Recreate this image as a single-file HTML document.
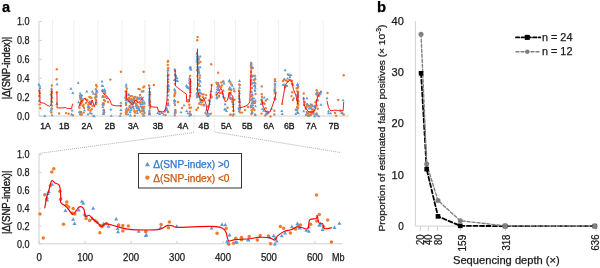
<!DOCTYPE html>
<html><head><meta charset="utf-8"><style>
html,body{margin:0;padding:0;background:#fff;}
svg{display:block;font-family:"Liberation Sans", sans-serif;will-change:transform;}
</style></head><body>
<svg width="600" height="268" viewBox="0 0 600 268">
<rect width="600" height="268" fill="#fff"/>
<line x1="39" y1="21.3" x2="39" y2="116" stroke="#D0D0D0" stroke-width="1"/>
<line x1="39" y1="116" x2="349" y2="116" stroke="#D0D0D0" stroke-width="1"/>
<line x1="39" y1="116.00" x2="42" y2="116.00" stroke="#D0D0D0" stroke-width="1"/>
<text x="29.6" y="119.65" font-size="10.2" text-anchor="end" fill="#1a1a1a" stroke="#1a1a1a" stroke-width="0.25" font-weight="normal" textLength="12.6" lengthAdjust="spacingAndGlyphs" >0.0</text>
<line x1="39" y1="97.08" x2="42" y2="97.08" stroke="#D0D0D0" stroke-width="1"/>
<text x="29.6" y="100.73" font-size="10.2" text-anchor="end" fill="#1a1a1a" stroke="#1a1a1a" stroke-width="0.25" font-weight="normal" textLength="12.6" lengthAdjust="spacingAndGlyphs" >0.2</text>
<line x1="39" y1="78.16" x2="42" y2="78.16" stroke="#D0D0D0" stroke-width="1"/>
<text x="29.6" y="81.81" font-size="10.2" text-anchor="end" fill="#1a1a1a" stroke="#1a1a1a" stroke-width="0.25" font-weight="normal" textLength="12.6" lengthAdjust="spacingAndGlyphs" >0.4</text>
<line x1="39" y1="59.24" x2="42" y2="59.24" stroke="#D0D0D0" stroke-width="1"/>
<text x="29.6" y="62.89000000000001" font-size="10.2" text-anchor="end" fill="#1a1a1a" stroke="#1a1a1a" stroke-width="0.25" font-weight="normal" textLength="12.6" lengthAdjust="spacingAndGlyphs" >0.6</text>
<line x1="39" y1="40.32" x2="42" y2="40.32" stroke="#D0D0D0" stroke-width="1"/>
<text x="29.6" y="43.970000000000006" font-size="10.2" text-anchor="end" fill="#1a1a1a" stroke="#1a1a1a" stroke-width="0.25" font-weight="normal" textLength="12.6" lengthAdjust="spacingAndGlyphs" >0.8</text>
<line x1="39" y1="21.40" x2="42" y2="21.40" stroke="#D0D0D0" stroke-width="1"/>
<text x="29.6" y="25.050000000000004" font-size="10.2" text-anchor="end" fill="#1a1a1a" stroke="#1a1a1a" stroke-width="0.25" font-weight="normal" textLength="12.6" lengthAdjust="spacingAndGlyphs" >1.0</text>
<line x1="52.5" y1="20.5" x2="52.5" y2="116" stroke="#CDCDCD" stroke-width="0.8" stroke-dasharray="0.8 1.2"/>
<line x1="73.9" y1="20.5" x2="73.9" y2="116" stroke="#CDCDCD" stroke-width="0.8" stroke-dasharray="0.8 1.2"/>
<line x1="97.8" y1="20.5" x2="97.8" y2="116" stroke="#CDCDCD" stroke-width="0.8" stroke-dasharray="0.8 1.2"/>
<line x1="122" y1="20.5" x2="122" y2="116" stroke="#CDCDCD" stroke-width="0.8" stroke-dasharray="0.8 1.2"/>
<line x1="145" y1="20.5" x2="145" y2="116" stroke="#CDCDCD" stroke-width="0.8" stroke-dasharray="0.8 1.2"/>
<line x1="169.8" y1="20.5" x2="169.8" y2="116" stroke="#CDCDCD" stroke-width="0.8" stroke-dasharray="0.8 1.2"/>
<line x1="194" y1="20.5" x2="194" y2="132.5" stroke="#CDCDCD" stroke-width="0.8" stroke-dasharray="0.8 1.2"/>
<line x1="214.5" y1="20.5" x2="214.5" y2="132.5" stroke="#CDCDCD" stroke-width="0.8" stroke-dasharray="0.8 1.2"/>
<line x1="235.5" y1="20.5" x2="235.5" y2="116" stroke="#CDCDCD" stroke-width="0.8" stroke-dasharray="0.8 1.2"/>
<line x1="257.8" y1="20.5" x2="257.8" y2="116" stroke="#CDCDCD" stroke-width="0.8" stroke-dasharray="0.8 1.2"/>
<line x1="278.6" y1="20.5" x2="278.6" y2="116" stroke="#CDCDCD" stroke-width="0.8" stroke-dasharray="0.8 1.2"/>
<line x1="299.8" y1="20.5" x2="299.8" y2="116" stroke="#CDCDCD" stroke-width="0.8" stroke-dasharray="0.8 1.2"/>
<line x1="323.2" y1="20.5" x2="323.2" y2="116" stroke="#CDCDCD" stroke-width="0.8" stroke-dasharray="0.8 1.2"/>
<text x="45.5" y="128.9" font-size="9.2" text-anchor="middle" fill="#1a1a1a" stroke="#1a1a1a" stroke-width="0.35" font-weight="normal" textLength="10.6" lengthAdjust="spacingAndGlyphs" >1A</text>
<text x="64.2" y="128.9" font-size="9.2" text-anchor="middle" fill="#1a1a1a" stroke="#1a1a1a" stroke-width="0.35" font-weight="normal" textLength="10.6" lengthAdjust="spacingAndGlyphs" >1B</text>
<text x="86.9" y="128.9" font-size="9.2" text-anchor="middle" fill="#1a1a1a" stroke="#1a1a1a" stroke-width="0.35" font-weight="normal" textLength="10.6" lengthAdjust="spacingAndGlyphs" >2A</text>
<text x="110.1" y="128.9" font-size="9.2" text-anchor="middle" fill="#1a1a1a" stroke="#1a1a1a" stroke-width="0.35" font-weight="normal" textLength="10.6" lengthAdjust="spacingAndGlyphs" >2B</text>
<text x="133.3" y="128.9" font-size="9.2" text-anchor="middle" fill="#1a1a1a" stroke="#1a1a1a" stroke-width="0.35" font-weight="normal" textLength="10.6" lengthAdjust="spacingAndGlyphs" >3A</text>
<text x="158.1" y="128.9" font-size="9.2" text-anchor="middle" fill="#1a1a1a" stroke="#1a1a1a" stroke-width="0.35" font-weight="normal" textLength="10.6" lengthAdjust="spacingAndGlyphs" >3B</text>
<text x="182.9" y="128.9" font-size="9.2" text-anchor="middle" fill="#1a1a1a" stroke="#1a1a1a" stroke-width="0.35" font-weight="normal" textLength="10.6" lengthAdjust="spacingAndGlyphs" >4A</text>
<text x="203.9" y="128.9" font-size="9.2" text-anchor="middle" fill="#1a1a1a" stroke="#1a1a1a" stroke-width="0.35" font-weight="normal" textLength="10.6" lengthAdjust="spacingAndGlyphs" >4B</text>
<text x="226.3" y="128.9" font-size="9.2" text-anchor="middle" fill="#1a1a1a" stroke="#1a1a1a" stroke-width="0.35" font-weight="normal" textLength="10.6" lengthAdjust="spacingAndGlyphs" >5A</text>
<text x="247.3" y="128.9" font-size="9.2" text-anchor="middle" fill="#1a1a1a" stroke="#1a1a1a" stroke-width="0.35" font-weight="normal" textLength="10.6" lengthAdjust="spacingAndGlyphs" >5B</text>
<text x="268.7" y="128.9" font-size="9.2" text-anchor="middle" fill="#1a1a1a" stroke="#1a1a1a" stroke-width="0.35" font-weight="normal" textLength="10.6" lengthAdjust="spacingAndGlyphs" >6A</text>
<text x="289.2" y="128.9" font-size="9.2" text-anchor="middle" fill="#1a1a1a" stroke="#1a1a1a" stroke-width="0.35" font-weight="normal" textLength="10.6" lengthAdjust="spacingAndGlyphs" >6B</text>
<text x="311.3" y="128.9" font-size="9.2" text-anchor="middle" fill="#1a1a1a" stroke="#1a1a1a" stroke-width="0.35" font-weight="normal" textLength="10.6" lengthAdjust="spacingAndGlyphs" >7A</text>
<text x="334" y="128.9" font-size="9.2" text-anchor="middle" fill="#1a1a1a" stroke="#1a1a1a" stroke-width="0.35" font-weight="normal" textLength="10.6" lengthAdjust="spacingAndGlyphs" >7B</text>
<circle cx="39.20" cy="90.70" r="1.2" fill="#ED7D31"/>
<circle cx="39.70" cy="92.90" r="1.2" fill="#ED7D31"/>
<circle cx="39.20" cy="95.90" r="1.2" fill="#ED7D31"/>
<circle cx="39.70" cy="104.60" r="1.2" fill="#ED7D31"/>
<circle cx="40.30" cy="108.10" r="1.2" fill="#ED7D31"/>
<circle cx="51.90" cy="85.50" r="1.2" fill="#ED7D31"/>
<circle cx="51.50" cy="91.40" r="1.2" fill="#ED7D31"/>
<circle cx="52.00" cy="92.90" r="1.2" fill="#ED7D31"/>
<circle cx="51.00" cy="94.40" r="1.2" fill="#ED7D31"/>
<circle cx="52.00" cy="97.40" r="1.2" fill="#ED7D31"/>
<circle cx="51.50" cy="98.90" r="1.2" fill="#ED7D31"/>
<circle cx="52.00" cy="101.90" r="1.2" fill="#ED7D31"/>
<circle cx="52.00" cy="105.60" r="1.2" fill="#ED7D31"/>
<circle cx="52.00" cy="108.60" r="1.2" fill="#ED7D31"/>
<circle cx="51.30" cy="112.50" r="1.2" fill="#ED7D31"/>
<circle cx="56.80" cy="69.30" r="1.2" fill="#ED7D31"/>
<circle cx="56.70" cy="79.20" r="1.2" fill="#ED7D31"/>
<circle cx="56.90" cy="92.20" r="1.2" fill="#ED7D31"/>
<circle cx="59.10" cy="113.50" r="1.2" fill="#ED7D31"/>
<circle cx="66.10" cy="113.10" r="1.2" fill="#ED7D31"/>
<circle cx="68.60" cy="113.80" r="1.2" fill="#ED7D31"/>
<circle cx="72.80" cy="115.30" r="1.2" fill="#ED7D31"/>
<circle cx="80.00" cy="96.00" r="1.2" fill="#ED7D31"/>
<circle cx="81.00" cy="100.00" r="1.2" fill="#ED7D31"/>
<circle cx="80.50" cy="104.00" r="1.2" fill="#ED7D31"/>
<circle cx="79.50" cy="108.00" r="1.2" fill="#ED7D31"/>
<circle cx="81.00" cy="112.00" r="1.2" fill="#ED7D31"/>
<circle cx="80.00" cy="114.00" r="1.2" fill="#ED7D31"/>
<circle cx="82.00" cy="102.00" r="1.2" fill="#ED7D31"/>
<circle cx="83.00" cy="106.00" r="1.2" fill="#ED7D31"/>
<circle cx="82.60" cy="100.60" r="1.2" fill="#ED7D31"/>
<circle cx="83.60" cy="104.80" r="1.2" fill="#ED7D31"/>
<circle cx="84.00" cy="107.70" r="1.2" fill="#ED7D31"/>
<circle cx="81.70" cy="114.50" r="1.2" fill="#ED7D31"/>
<circle cx="83.60" cy="112.60" r="1.2" fill="#ED7D31"/>
<circle cx="89.40" cy="97.00" r="1.2" fill="#ED7D31"/>
<circle cx="91.40" cy="98.00" r="1.2" fill="#ED7D31"/>
<circle cx="88.40" cy="104.80" r="1.2" fill="#ED7D31"/>
<circle cx="89.40" cy="107.70" r="1.2" fill="#ED7D31"/>
<circle cx="90.40" cy="110.70" r="1.2" fill="#ED7D31"/>
<circle cx="91.40" cy="113.60" r="1.2" fill="#ED7D31"/>
<circle cx="88.40" cy="109.70" r="1.2" fill="#ED7D31"/>
<circle cx="96.20" cy="85.00" r="1.2" fill="#ED7D31"/>
<circle cx="95.80" cy="89.30" r="1.2" fill="#ED7D31"/>
<circle cx="96.20" cy="93.20" r="1.2" fill="#ED7D31"/>
<circle cx="95.60" cy="97.00" r="1.2" fill="#ED7D31"/>
<circle cx="96.00" cy="100.00" r="1.2" fill="#ED7D31"/>
<circle cx="96.20" cy="104.00" r="1.2" fill="#ED7D31"/>
<circle cx="86.00" cy="103.00" r="1.2" fill="#ED7D31"/>
<circle cx="92.50" cy="106.00" r="1.2" fill="#ED7D31"/>
<circle cx="85.50" cy="99.00" r="1.2" fill="#ED7D31"/>
<circle cx="102.60" cy="90.30" r="1.2" fill="#ED7D31"/>
<circle cx="103.00" cy="96.10" r="1.2" fill="#ED7D31"/>
<circle cx="104.00" cy="100.00" r="1.2" fill="#ED7D31"/>
<circle cx="103.50" cy="105.00" r="1.2" fill="#ED7D31"/>
<circle cx="104.00" cy="110.00" r="1.2" fill="#ED7D31"/>
<circle cx="105.00" cy="93.20" r="1.2" fill="#ED7D31"/>
<circle cx="105.50" cy="97.00" r="1.2" fill="#ED7D31"/>
<circle cx="105.00" cy="101.00" r="1.2" fill="#ED7D31"/>
<circle cx="110.40" cy="79.60" r="1.2" fill="#ED7D31"/>
<circle cx="120.90" cy="71.80" r="1.2" fill="#ED7D31"/>
<circle cx="120.90" cy="105.80" r="1.2" fill="#ED7D31"/>
<circle cx="120.90" cy="113.60" r="1.2" fill="#ED7D31"/>
<circle cx="108.00" cy="102.00" r="1.2" fill="#ED7D31"/>
<circle cx="126.20" cy="91.20" r="1.2" fill="#ED7D31"/>
<circle cx="126.00" cy="96.00" r="1.2" fill="#ED7D31"/>
<circle cx="126.50" cy="100.00" r="1.2" fill="#ED7D31"/>
<circle cx="126.00" cy="105.00" r="1.2" fill="#ED7D31"/>
<circle cx="126.30" cy="110.00" r="1.2" fill="#ED7D31"/>
<circle cx="126.00" cy="114.00" r="1.2" fill="#ED7D31"/>
<circle cx="128.70" cy="95.10" r="1.2" fill="#ED7D31"/>
<circle cx="130.60" cy="96.10" r="1.2" fill="#ED7D31"/>
<circle cx="132.00" cy="96.10" r="1.2" fill="#ED7D31"/>
<circle cx="129.70" cy="100.00" r="1.2" fill="#ED7D31"/>
<circle cx="131.60" cy="103.90" r="1.2" fill="#ED7D31"/>
<circle cx="133.10" cy="106.80" r="1.2" fill="#ED7D31"/>
<circle cx="134.50" cy="110.70" r="1.2" fill="#ED7D31"/>
<circle cx="135.10" cy="112.60" r="1.2" fill="#ED7D31"/>
<circle cx="136.40" cy="100.00" r="1.2" fill="#ED7D31"/>
<circle cx="137.40" cy="102.00" r="1.2" fill="#ED7D31"/>
<circle cx="139.40" cy="99.00" r="1.2" fill="#ED7D31"/>
<circle cx="140.30" cy="102.90" r="1.2" fill="#ED7D31"/>
<circle cx="142.30" cy="102.00" r="1.2" fill="#ED7D31"/>
<circle cx="138.40" cy="88.90" r="1.2" fill="#ED7D31"/>
<circle cx="139.70" cy="89.30" r="1.2" fill="#ED7D31"/>
<circle cx="144.20" cy="86.40" r="1.2" fill="#ED7D31"/>
<circle cx="143.20" cy="87.40" r="1.2" fill="#ED7D31"/>
<circle cx="143.20" cy="91.20" r="1.2" fill="#ED7D31"/>
<circle cx="143.60" cy="109.70" r="1.2" fill="#ED7D31"/>
<circle cx="142.30" cy="113.60" r="1.2" fill="#ED7D31"/>
<circle cx="136.40" cy="104.80" r="1.2" fill="#ED7D31"/>
<circle cx="138.40" cy="106.80" r="1.2" fill="#ED7D31"/>
<circle cx="134.50" cy="111.60" r="1.2" fill="#ED7D31"/>
<circle cx="143.60" cy="71.80" r="1.2" fill="#ED7D31"/>
<circle cx="133.00" cy="100.00" r="1.2" fill="#ED7D31"/>
<circle cx="135.00" cy="97.00" r="1.2" fill="#ED7D31"/>
<circle cx="130.00" cy="107.00" r="1.2" fill="#ED7D31"/>
<circle cx="140.00" cy="95.00" r="1.2" fill="#ED7D31"/>
<circle cx="153.90" cy="85.00" r="1.2" fill="#ED7D31"/>
<circle cx="150.00" cy="94.20" r="1.2" fill="#ED7D31"/>
<circle cx="150.00" cy="102.00" r="1.2" fill="#ED7D31"/>
<circle cx="150.00" cy="108.00" r="1.2" fill="#ED7D31"/>
<circle cx="159.70" cy="111.60" r="1.2" fill="#ED7D31"/>
<circle cx="164.60" cy="111.60" r="1.2" fill="#ED7D31"/>
<circle cx="168.10" cy="67.90" r="1.2" fill="#ED7D31"/>
<circle cx="168.50" cy="75.00" r="1.2" fill="#ED7D31"/>
<circle cx="168.00" cy="82.00" r="1.2" fill="#ED7D31"/>
<circle cx="168.50" cy="90.00" r="1.2" fill="#ED7D31"/>
<circle cx="168.00" cy="100.00" r="1.2" fill="#ED7D31"/>
<circle cx="167.80" cy="61.70" r="1.2" fill="#ED7D31"/>
<circle cx="167.80" cy="64.90" r="1.2" fill="#ED7D31"/>
<circle cx="167.00" cy="110.00" r="1.2" fill="#ED7D31"/>
<circle cx="165.50" cy="115.00" r="1.2" fill="#ED7D31"/>
<circle cx="175.00" cy="71.00" r="1.2" fill="#ED7D31"/>
<circle cx="176.00" cy="77.00" r="1.2" fill="#ED7D31"/>
<circle cx="175.00" cy="84.00" r="1.2" fill="#ED7D31"/>
<circle cx="174.50" cy="95.00" r="1.2" fill="#ED7D31"/>
<circle cx="175.00" cy="105.00" r="1.2" fill="#ED7D31"/>
<circle cx="175.50" cy="112.00" r="1.2" fill="#ED7D31"/>
<circle cx="174.30" cy="96.10" r="1.2" fill="#ED7D31"/>
<circle cx="188.30" cy="100.00" r="1.2" fill="#ED7D31"/>
<circle cx="189.30" cy="104.80" r="1.2" fill="#ED7D31"/>
<circle cx="189.50" cy="107.70" r="1.2" fill="#ED7D31"/>
<circle cx="190.00" cy="111.60" r="1.2" fill="#ED7D31"/>
<circle cx="190.10" cy="75.90" r="1.2" fill="#ED7D31"/>
<circle cx="190.10" cy="84.70" r="1.2" fill="#ED7D31"/>
<circle cx="190.00" cy="89.50" r="1.2" fill="#ED7D31"/>
<circle cx="190.00" cy="96.00" r="1.2" fill="#ED7D31"/>
<circle cx="182.00" cy="108.00" r="1.2" fill="#ED7D31"/>
<circle cx="178.00" cy="102.00" r="1.2" fill="#ED7D31"/>
<circle cx="197.60" cy="37.00" r="1.2" fill="#ED7D31"/>
<circle cx="197.20" cy="40.30" r="1.2" fill="#ED7D31"/>
<circle cx="197.50" cy="60.30" r="1.2" fill="#ED7D31"/>
<circle cx="197.50" cy="64.60" r="1.2" fill="#ED7D31"/>
<circle cx="197.00" cy="70.00" r="1.2" fill="#ED7D31"/>
<circle cx="197.50" cy="76.00" r="1.2" fill="#ED7D31"/>
<circle cx="198.00" cy="84.00" r="1.2" fill="#ED7D31"/>
<circle cx="199.00" cy="96.00" r="1.2" fill="#ED7D31"/>
<circle cx="200.50" cy="100.00" r="1.2" fill="#ED7D31"/>
<circle cx="198.00" cy="107.70" r="1.2" fill="#ED7D31"/>
<circle cx="200.00" cy="96.10" r="1.2" fill="#ED7D31"/>
<circle cx="202.90" cy="97.10" r="1.2" fill="#ED7D31"/>
<circle cx="202.30" cy="101.90" r="1.2" fill="#ED7D31"/>
<circle cx="203.80" cy="104.80" r="1.2" fill="#ED7D31"/>
<circle cx="199.00" cy="93.20" r="1.2" fill="#ED7D31"/>
<circle cx="196.50" cy="109.70" r="1.2" fill="#ED7D31"/>
<circle cx="206.20" cy="95.10" r="1.2" fill="#ED7D31"/>
<circle cx="208.10" cy="106.80" r="1.2" fill="#ED7D31"/>
<circle cx="206.70" cy="114.50" r="1.2" fill="#ED7D31"/>
<circle cx="210.60" cy="94.70" r="1.2" fill="#ED7D31"/>
<circle cx="211.60" cy="85.00" r="1.2" fill="#ED7D31"/>
<circle cx="211.60" cy="97.10" r="1.2" fill="#ED7D31"/>
<circle cx="211.20" cy="64.20" r="1.2" fill="#ED7D31"/>
<circle cx="211.00" cy="113.60" r="1.2" fill="#ED7D31"/>
<circle cx="198.50" cy="58.40" r="1.2" fill="#ED7D31"/>
<circle cx="218.20" cy="72.80" r="1.2" fill="#ED7D31"/>
<circle cx="217.00" cy="84.00" r="1.2" fill="#ED7D31"/>
<circle cx="219.00" cy="85.50" r="1.2" fill="#ED7D31"/>
<circle cx="221.00" cy="87.00" r="1.2" fill="#ED7D31"/>
<circle cx="218.00" cy="90.00" r="1.2" fill="#ED7D31"/>
<circle cx="220.00" cy="93.00" r="1.2" fill="#ED7D31"/>
<circle cx="222.00" cy="85.40" r="1.2" fill="#ED7D31"/>
<circle cx="221.30" cy="82.50" r="1.2" fill="#ED7D31"/>
<circle cx="223.30" cy="81.50" r="1.2" fill="#ED7D31"/>
<circle cx="224.60" cy="98.00" r="1.2" fill="#ED7D31"/>
<circle cx="227.50" cy="107.70" r="1.2" fill="#ED7D31"/>
<circle cx="230.40" cy="82.50" r="1.2" fill="#ED7D31"/>
<circle cx="231.40" cy="84.40" r="1.2" fill="#ED7D31"/>
<circle cx="231.00" cy="90.30" r="1.2" fill="#ED7D31"/>
<circle cx="229.40" cy="95.10" r="1.2" fill="#ED7D31"/>
<circle cx="231.00" cy="99.00" r="1.2" fill="#ED7D31"/>
<circle cx="232.30" cy="102.00" r="1.2" fill="#ED7D31"/>
<circle cx="232.90" cy="106.80" r="1.2" fill="#ED7D31"/>
<circle cx="233.30" cy="110.70" r="1.2" fill="#ED7D31"/>
<circle cx="232.90" cy="115.50" r="1.2" fill="#ED7D31"/>
<circle cx="234.30" cy="91.20" r="1.2" fill="#ED7D31"/>
<circle cx="239.10" cy="84.40" r="1.2" fill="#ED7D31"/>
<circle cx="239.00" cy="90.50" r="1.2" fill="#ED7D31"/>
<circle cx="239.00" cy="96.00" r="1.2" fill="#ED7D31"/>
<circle cx="239.00" cy="102.00" r="1.2" fill="#ED7D31"/>
<circle cx="239.50" cy="108.00" r="1.2" fill="#ED7D31"/>
<circle cx="240.10" cy="112.60" r="1.2" fill="#ED7D31"/>
<circle cx="242.00" cy="112.60" r="1.2" fill="#ED7D31"/>
<circle cx="251.00" cy="63.00" r="1.2" fill="#ED7D31"/>
<circle cx="251.00" cy="67.00" r="1.2" fill="#ED7D31"/>
<circle cx="251.00" cy="72.00" r="1.2" fill="#ED7D31"/>
<circle cx="251.00" cy="80.00" r="1.2" fill="#ED7D31"/>
<circle cx="252.00" cy="88.00" r="1.2" fill="#ED7D31"/>
<circle cx="252.00" cy="95.00" r="1.2" fill="#ED7D31"/>
<circle cx="253.00" cy="102.00" r="1.2" fill="#ED7D31"/>
<circle cx="253.00" cy="108.00" r="1.2" fill="#ED7D31"/>
<circle cx="251.50" cy="114.00" r="1.2" fill="#ED7D31"/>
<circle cx="253.70" cy="75.70" r="1.2" fill="#ED7D31"/>
<circle cx="255.00" cy="79.60" r="1.2" fill="#ED7D31"/>
<circle cx="255.00" cy="86.00" r="1.2" fill="#ED7D31"/>
<circle cx="255.50" cy="94.00" r="1.2" fill="#ED7D31"/>
<circle cx="255.00" cy="102.00" r="1.2" fill="#ED7D31"/>
<circle cx="254.50" cy="110.00" r="1.2" fill="#ED7D31"/>
<circle cx="245.00" cy="110.00" r="1.2" fill="#ED7D31"/>
<circle cx="248.00" cy="107.00" r="1.2" fill="#ED7D31"/>
<circle cx="261.80" cy="86.40" r="1.2" fill="#ED7D31"/>
<circle cx="261.80" cy="94.20" r="1.2" fill="#ED7D31"/>
<circle cx="262.00" cy="97.00" r="1.2" fill="#ED7D31"/>
<circle cx="262.00" cy="102.00" r="1.2" fill="#ED7D31"/>
<circle cx="262.80" cy="102.90" r="1.2" fill="#ED7D31"/>
<circle cx="263.70" cy="102.90" r="1.2" fill="#ED7D31"/>
<circle cx="266.70" cy="113.60" r="1.2" fill="#ED7D31"/>
<circle cx="270.50" cy="116.50" r="1.2" fill="#ED7D31"/>
<circle cx="274.40" cy="110.70" r="1.2" fill="#ED7D31"/>
<circle cx="274.40" cy="114.50" r="1.2" fill="#ED7D31"/>
<circle cx="275.00" cy="79.20" r="1.2" fill="#ED7D31"/>
<circle cx="274.80" cy="81.10" r="1.2" fill="#ED7D31"/>
<circle cx="274.80" cy="89.30" r="1.2" fill="#ED7D31"/>
<circle cx="275.00" cy="93.20" r="1.2" fill="#ED7D31"/>
<circle cx="261.50" cy="113.60" r="1.2" fill="#ED7D31"/>
<circle cx="265.30" cy="115.50" r="1.2" fill="#ED7D31"/>
<circle cx="284.10" cy="79.60" r="1.2" fill="#ED7D31"/>
<circle cx="286.10" cy="80.60" r="1.2" fill="#ED7D31"/>
<circle cx="287.60" cy="81.50" r="1.2" fill="#ED7D31"/>
<circle cx="289.60" cy="79.60" r="1.2" fill="#ED7D31"/>
<circle cx="291.90" cy="80.60" r="1.2" fill="#ED7D31"/>
<circle cx="285.10" cy="87.40" r="1.2" fill="#ED7D31"/>
<circle cx="282.20" cy="103.90" r="1.2" fill="#ED7D31"/>
<circle cx="292.30" cy="92.20" r="1.2" fill="#ED7D31"/>
<circle cx="291.50" cy="96.10" r="1.2" fill="#ED7D31"/>
<circle cx="292.90" cy="100.00" r="1.2" fill="#ED7D31"/>
<circle cx="296.70" cy="88.30" r="1.2" fill="#ED7D31"/>
<circle cx="297.30" cy="91.20" r="1.2" fill="#ED7D31"/>
<circle cx="297.70" cy="100.00" r="1.2" fill="#ED7D31"/>
<circle cx="297.70" cy="103.90" r="1.2" fill="#ED7D31"/>
<circle cx="298.10" cy="107.70" r="1.2" fill="#ED7D31"/>
<circle cx="295.80" cy="109.70" r="1.2" fill="#ED7D31"/>
<circle cx="297.60" cy="88.10" r="1.2" fill="#ED7D31"/>
<circle cx="298.00" cy="97.00" r="1.2" fill="#ED7D31"/>
<circle cx="297.60" cy="100.00" r="1.2" fill="#ED7D31"/>
<circle cx="298.00" cy="104.00" r="1.2" fill="#ED7D31"/>
<circle cx="297.00" cy="107.00" r="1.2" fill="#ED7D31"/>
<circle cx="303.70" cy="93.50" r="1.2" fill="#ED7D31"/>
<circle cx="304.70" cy="102.20" r="1.2" fill="#ED7D31"/>
<circle cx="306.90" cy="104.40" r="1.2" fill="#ED7D31"/>
<circle cx="305.80" cy="108.70" r="1.2" fill="#ED7D31"/>
<circle cx="306.90" cy="112.00" r="1.2" fill="#ED7D31"/>
<circle cx="308.40" cy="113.00" r="1.2" fill="#ED7D31"/>
<circle cx="310.20" cy="112.00" r="1.2" fill="#ED7D31"/>
<circle cx="309.70" cy="115.20" r="1.2" fill="#ED7D31"/>
<circle cx="311.20" cy="114.10" r="1.2" fill="#ED7D31"/>
<circle cx="312.30" cy="113.00" r="1.2" fill="#ED7D31"/>
<circle cx="313.40" cy="109.80" r="1.2" fill="#ED7D31"/>
<circle cx="308.00" cy="105.50" r="1.2" fill="#ED7D31"/>
<circle cx="309.70" cy="106.50" r="1.2" fill="#ED7D31"/>
<circle cx="304.00" cy="105.00" r="1.2" fill="#ED7D31"/>
<circle cx="306.00" cy="115.00" r="1.2" fill="#ED7D31"/>
<circle cx="316.60" cy="90.30" r="1.2" fill="#ED7D31"/>
<circle cx="317.70" cy="92.50" r="1.2" fill="#ED7D31"/>
<circle cx="319.20" cy="95.70" r="1.2" fill="#ED7D31"/>
<circle cx="315.60" cy="102.20" r="1.2" fill="#ED7D31"/>
<circle cx="316.60" cy="105.50" r="1.2" fill="#ED7D31"/>
<circle cx="317.70" cy="108.70" r="1.2" fill="#ED7D31"/>
<circle cx="316.60" cy="115.20" r="1.2" fill="#ED7D31"/>
<circle cx="327.50" cy="92.90" r="1.2" fill="#ED7D31"/>
<circle cx="335.00" cy="113.00" r="1.2" fill="#ED7D31"/>
<circle cx="336.10" cy="115.80" r="1.2" fill="#ED7D31"/>
<circle cx="338.30" cy="100.00" r="1.2" fill="#ED7D31"/>
<circle cx="342.20" cy="113.00" r="1.2" fill="#ED7D31"/>
<circle cx="343.70" cy="114.50" r="1.2" fill="#ED7D31"/>
<circle cx="343.70" cy="75.20" r="1.2" fill="#ED7D31"/>
<circle cx="80.72" cy="97.32" r="1.2" fill="#ED7D31"/>
<circle cx="81.24" cy="95.59" r="1.2" fill="#ED7D31"/>
<circle cx="81.06" cy="102.05" r="1.2" fill="#ED7D31"/>
<circle cx="80.29" cy="105.16" r="1.2" fill="#ED7D31"/>
<circle cx="80.26" cy="103.54" r="1.2" fill="#ED7D31"/>
<circle cx="80.31" cy="96.00" r="1.2" fill="#ED7D31"/>
<circle cx="80.88" cy="112.19" r="1.2" fill="#ED7D31"/>
<circle cx="80.40" cy="98.91" r="1.2" fill="#ED7D31"/>
<circle cx="81.20" cy="114.85" r="1.2" fill="#ED7D31"/>
<circle cx="81.12" cy="102.73" r="1.2" fill="#ED7D31"/>
<circle cx="88.08" cy="107.05" r="1.2" fill="#ED7D31"/>
<circle cx="90.83" cy="103.08" r="1.2" fill="#ED7D31"/>
<circle cx="90.29" cy="97.19" r="1.2" fill="#ED7D31"/>
<circle cx="87.36" cy="99.91" r="1.2" fill="#ED7D31"/>
<circle cx="91.08" cy="104.12" r="1.2" fill="#ED7D31"/>
<circle cx="88.88" cy="107.13" r="1.2" fill="#ED7D31"/>
<circle cx="89.72" cy="101.70" r="1.2" fill="#ED7D31"/>
<circle cx="91.77" cy="109.28" r="1.2" fill="#ED7D31"/>
<circle cx="96.77" cy="86.48" r="1.2" fill="#ED7D31"/>
<circle cx="95.87" cy="99.90" r="1.2" fill="#ED7D31"/>
<circle cx="95.44" cy="94.27" r="1.2" fill="#ED7D31"/>
<circle cx="95.26" cy="98.03" r="1.2" fill="#ED7D31"/>
<circle cx="96.42" cy="96.03" r="1.2" fill="#ED7D31"/>
<circle cx="103.63" cy="96.60" r="1.2" fill="#ED7D31"/>
<circle cx="104.04" cy="112.23" r="1.2" fill="#ED7D31"/>
<circle cx="103.46" cy="103.25" r="1.2" fill="#ED7D31"/>
<circle cx="102.80" cy="104.45" r="1.2" fill="#ED7D31"/>
<circle cx="103.74" cy="113.78" r="1.2" fill="#ED7D31"/>
<circle cx="104.02" cy="91.11" r="1.2" fill="#ED7D31"/>
<circle cx="103.32" cy="103.40" r="1.2" fill="#ED7D31"/>
<circle cx="102.74" cy="96.77" r="1.2" fill="#ED7D31"/>
<circle cx="126.28" cy="112.27" r="1.2" fill="#ED7D31"/>
<circle cx="126.71" cy="111.65" r="1.2" fill="#ED7D31"/>
<circle cx="125.85" cy="97.29" r="1.2" fill="#ED7D31"/>
<circle cx="125.97" cy="112.29" r="1.2" fill="#ED7D31"/>
<circle cx="126.93" cy="88.83" r="1.2" fill="#ED7D31"/>
<circle cx="125.68" cy="91.42" r="1.2" fill="#ED7D31"/>
<circle cx="144.20" cy="106.67" r="1.2" fill="#ED7D31"/>
<circle cx="136.76" cy="105.65" r="1.2" fill="#ED7D31"/>
<circle cx="139.50" cy="97.76" r="1.2" fill="#ED7D31"/>
<circle cx="143.29" cy="107.92" r="1.2" fill="#ED7D31"/>
<circle cx="142.87" cy="108.17" r="1.2" fill="#ED7D31"/>
<circle cx="134.67" cy="102.59" r="1.2" fill="#ED7D31"/>
<circle cx="129.76" cy="105.88" r="1.2" fill="#ED7D31"/>
<circle cx="129.06" cy="97.94" r="1.2" fill="#ED7D31"/>
<circle cx="131.55" cy="99.27" r="1.2" fill="#ED7D31"/>
<circle cx="133.78" cy="97.74" r="1.2" fill="#ED7D31"/>
<circle cx="128.00" cy="99.12" r="1.2" fill="#ED7D31"/>
<circle cx="129.72" cy="102.09" r="1.2" fill="#ED7D31"/>
<circle cx="128.43" cy="109.24" r="1.2" fill="#ED7D31"/>
<circle cx="138.44" cy="99.08" r="1.2" fill="#ED7D31"/>
<circle cx="132.29" cy="101.86" r="1.2" fill="#ED7D31"/>
<circle cx="134.19" cy="98.72" r="1.2" fill="#ED7D31"/>
<circle cx="142.43" cy="110.90" r="1.2" fill="#ED7D31"/>
<circle cx="135.92" cy="103.77" r="1.2" fill="#ED7D31"/>
<circle cx="129.46" cy="98.43" r="1.2" fill="#ED7D31"/>
<circle cx="133.82" cy="100.71" r="1.2" fill="#ED7D31"/>
<circle cx="142.09" cy="99.26" r="1.2" fill="#ED7D31"/>
<circle cx="128.39" cy="110.31" r="1.2" fill="#ED7D31"/>
<circle cx="136.98" cy="99.05" r="1.2" fill="#ED7D31"/>
<circle cx="137.23" cy="97.38" r="1.2" fill="#ED7D31"/>
<circle cx="136.98" cy="110.70" r="1.2" fill="#ED7D31"/>
<circle cx="142.68" cy="106.75" r="1.2" fill="#ED7D31"/>
<circle cx="132.44" cy="102.13" r="1.2" fill="#ED7D31"/>
<circle cx="130.84" cy="107.81" r="1.2" fill="#ED7D31"/>
<circle cx="137.05" cy="107.91" r="1.2" fill="#ED7D31"/>
<circle cx="133.60" cy="100.12" r="1.2" fill="#ED7D31"/>
<circle cx="141.80" cy="110.79" r="1.2" fill="#ED7D31"/>
<circle cx="142.49" cy="108.29" r="1.2" fill="#ED7D31"/>
<circle cx="141.91" cy="107.36" r="1.2" fill="#ED7D31"/>
<circle cx="131.85" cy="104.25" r="1.2" fill="#ED7D31"/>
<circle cx="144.52" cy="112.98" r="1.2" fill="#ED7D31"/>
<circle cx="134.82" cy="115.73" r="1.2" fill="#ED7D31"/>
<circle cx="140.32" cy="111.85" r="1.2" fill="#ED7D31"/>
<circle cx="149.98" cy="105.38" r="1.2" fill="#ED7D31"/>
<circle cx="149.35" cy="102.01" r="1.2" fill="#ED7D31"/>
<circle cx="149.13" cy="85.44" r="1.2" fill="#ED7D31"/>
<circle cx="149.97" cy="105.14" r="1.2" fill="#ED7D31"/>
<circle cx="149.53" cy="113.94" r="1.2" fill="#ED7D31"/>
<circle cx="149.43" cy="112.02" r="1.2" fill="#ED7D31"/>
<circle cx="167.90" cy="111.39" r="1.2" fill="#ED7D31"/>
<circle cx="168.00" cy="89.78" r="1.2" fill="#ED7D31"/>
<circle cx="168.03" cy="61.05" r="1.2" fill="#ED7D31"/>
<circle cx="167.93" cy="70.25" r="1.2" fill="#ED7D31"/>
<circle cx="167.40" cy="104.75" r="1.2" fill="#ED7D31"/>
<circle cx="167.61" cy="86.52" r="1.2" fill="#ED7D31"/>
<circle cx="168.27" cy="91.16" r="1.2" fill="#ED7D31"/>
<circle cx="167.79" cy="89.03" r="1.2" fill="#ED7D31"/>
<circle cx="175.18" cy="92.27" r="1.2" fill="#ED7D31"/>
<circle cx="175.02" cy="101.25" r="1.2" fill="#ED7D31"/>
<circle cx="174.92" cy="93.60" r="1.2" fill="#ED7D31"/>
<circle cx="174.96" cy="113.19" r="1.2" fill="#ED7D31"/>
<circle cx="175.32" cy="110.07" r="1.2" fill="#ED7D31"/>
<circle cx="175.71" cy="80.46" r="1.2" fill="#ED7D31"/>
<circle cx="175.10" cy="113.28" r="1.2" fill="#ED7D31"/>
<circle cx="190.81" cy="114.38" r="1.2" fill="#ED7D31"/>
<circle cx="189.75" cy="113.63" r="1.2" fill="#ED7D31"/>
<circle cx="190.04" cy="90.36" r="1.2" fill="#ED7D31"/>
<circle cx="190.98" cy="107.62" r="1.2" fill="#ED7D31"/>
<circle cx="189.66" cy="87.58" r="1.2" fill="#ED7D31"/>
<circle cx="190.22" cy="82.96" r="1.2" fill="#ED7D31"/>
<circle cx="189.71" cy="81.93" r="1.2" fill="#ED7D31"/>
<circle cx="196.90" cy="88.95" r="1.2" fill="#ED7D31"/>
<circle cx="197.45" cy="56.48" r="1.2" fill="#ED7D31"/>
<circle cx="197.81" cy="95.57" r="1.2" fill="#ED7D31"/>
<circle cx="198.77" cy="62.93" r="1.2" fill="#ED7D31"/>
<circle cx="197.16" cy="95.96" r="1.2" fill="#ED7D31"/>
<circle cx="198.17" cy="85.02" r="1.2" fill="#ED7D31"/>
<circle cx="197.01" cy="52.88" r="1.2" fill="#ED7D31"/>
<circle cx="198.45" cy="71.27" r="1.2" fill="#ED7D31"/>
<circle cx="203.06" cy="100.71" r="1.2" fill="#ED7D31"/>
<circle cx="208.87" cy="100.38" r="1.2" fill="#ED7D31"/>
<circle cx="205.50" cy="97.91" r="1.2" fill="#ED7D31"/>
<circle cx="203.51" cy="94.40" r="1.2" fill="#ED7D31"/>
<circle cx="202.26" cy="94.34" r="1.2" fill="#ED7D31"/>
<circle cx="208.53" cy="106.12" r="1.2" fill="#ED7D31"/>
<circle cx="201.46" cy="104.44" r="1.2" fill="#ED7D31"/>
<circle cx="211.15" cy="96.34" r="1.2" fill="#ED7D31"/>
<circle cx="218.74" cy="96.65" r="1.2" fill="#ED7D31"/>
<circle cx="221.65" cy="92.72" r="1.2" fill="#ED7D31"/>
<circle cx="219.24" cy="86.95" r="1.2" fill="#ED7D31"/>
<circle cx="216.44" cy="82.60" r="1.2" fill="#ED7D31"/>
<circle cx="216.57" cy="94.82" r="1.2" fill="#ED7D31"/>
<circle cx="218.04" cy="83.26" r="1.2" fill="#ED7D31"/>
<circle cx="230.45" cy="114.62" r="1.2" fill="#ED7D31"/>
<circle cx="234.35" cy="99.69" r="1.2" fill="#ED7D31"/>
<circle cx="230.34" cy="114.76" r="1.2" fill="#ED7D31"/>
<circle cx="230.70" cy="92.84" r="1.2" fill="#ED7D31"/>
<circle cx="229.01" cy="93.74" r="1.2" fill="#ED7D31"/>
<circle cx="231.61" cy="98.10" r="1.2" fill="#ED7D31"/>
<circle cx="230.11" cy="98.17" r="1.2" fill="#ED7D31"/>
<circle cx="229.03" cy="89.51" r="1.2" fill="#ED7D31"/>
<circle cx="239.52" cy="109.89" r="1.2" fill="#ED7D31"/>
<circle cx="239.19" cy="91.09" r="1.2" fill="#ED7D31"/>
<circle cx="239.78" cy="85.08" r="1.2" fill="#ED7D31"/>
<circle cx="239.52" cy="101.87" r="1.2" fill="#ED7D31"/>
<circle cx="238.84" cy="108.40" r="1.2" fill="#ED7D31"/>
<circle cx="251.63" cy="110.32" r="1.2" fill="#ED7D31"/>
<circle cx="251.79" cy="99.75" r="1.2" fill="#ED7D31"/>
<circle cx="251.07" cy="64.65" r="1.2" fill="#ED7D31"/>
<circle cx="250.91" cy="82.12" r="1.2" fill="#ED7D31"/>
<circle cx="250.87" cy="107.30" r="1.2" fill="#ED7D31"/>
<circle cx="251.59" cy="96.27" r="1.2" fill="#ED7D31"/>
<circle cx="254.49" cy="85.89" r="1.2" fill="#ED7D31"/>
<circle cx="255.28" cy="83.41" r="1.2" fill="#ED7D31"/>
<circle cx="255.29" cy="115.01" r="1.2" fill="#ED7D31"/>
<circle cx="254.99" cy="90.68" r="1.2" fill="#ED7D31"/>
<circle cx="254.97" cy="103.03" r="1.2" fill="#ED7D31"/>
<circle cx="261.42" cy="100.11" r="1.2" fill="#ED7D31"/>
<circle cx="265.70" cy="108.15" r="1.2" fill="#ED7D31"/>
<circle cx="265.73" cy="100.53" r="1.2" fill="#ED7D31"/>
<circle cx="264.62" cy="103.83" r="1.2" fill="#ED7D31"/>
<circle cx="275.32" cy="99.30" r="1.2" fill="#ED7D31"/>
<circle cx="274.95" cy="83.91" r="1.2" fill="#ED7D31"/>
<circle cx="274.71" cy="98.80" r="1.2" fill="#ED7D31"/>
<circle cx="291.20" cy="81.12" r="1.2" fill="#ED7D31"/>
<circle cx="291.87" cy="83.85" r="1.2" fill="#ED7D31"/>
<circle cx="285.31" cy="86.57" r="1.2" fill="#ED7D31"/>
<circle cx="287.86" cy="74.35" r="1.2" fill="#ED7D31"/>
<circle cx="283.04" cy="80.88" r="1.2" fill="#ED7D31"/>
<circle cx="298.11" cy="86.72" r="1.2" fill="#ED7D31"/>
<circle cx="298.21" cy="105.10" r="1.2" fill="#ED7D31"/>
<circle cx="298.18" cy="91.98" r="1.2" fill="#ED7D31"/>
<circle cx="297.55" cy="95.18" r="1.2" fill="#ED7D31"/>
<circle cx="298.30" cy="101.26" r="1.2" fill="#ED7D31"/>
<circle cx="306.37" cy="107.19" r="1.2" fill="#ED7D31"/>
<circle cx="309.38" cy="106.28" r="1.2" fill="#ED7D31"/>
<circle cx="307.79" cy="115.47" r="1.2" fill="#ED7D31"/>
<circle cx="313.67" cy="113.74" r="1.2" fill="#ED7D31"/>
<circle cx="310.76" cy="114.96" r="1.2" fill="#ED7D31"/>
<circle cx="314.32" cy="110.59" r="1.2" fill="#ED7D31"/>
<circle cx="311.78" cy="104.59" r="1.2" fill="#ED7D31"/>
<circle cx="311.92" cy="109.41" r="1.2" fill="#ED7D31"/>
<circle cx="312.16" cy="111.73" r="1.2" fill="#ED7D31"/>
<circle cx="306.79" cy="104.59" r="1.2" fill="#ED7D31"/>
<circle cx="317.67" cy="100.25" r="1.2" fill="#ED7D31"/>
<circle cx="316.50" cy="94.20" r="1.2" fill="#ED7D31"/>
<circle cx="316.62" cy="113.55" r="1.2" fill="#ED7D31"/>
<circle cx="317.49" cy="95.72" r="1.2" fill="#ED7D31"/>
<circle cx="198.53" cy="60.01" r="1.2" fill="#ED7D31"/>
<circle cx="198.22" cy="69.21" r="1.2" fill="#ED7D31"/>
<circle cx="199.21" cy="103.80" r="1.2" fill="#ED7D31"/>
<circle cx="199.75" cy="77.70" r="1.2" fill="#ED7D31"/>
<circle cx="198.74" cy="83.83" r="1.2" fill="#ED7D31"/>
<circle cx="198.63" cy="73.60" r="1.2" fill="#ED7D31"/>
<circle cx="197.69" cy="70.26" r="1.2" fill="#ED7D31"/>
<circle cx="200.40" cy="61.92" r="1.2" fill="#ED7D31"/>
<circle cx="252.71" cy="68.01" r="1.2" fill="#ED7D31"/>
<circle cx="252.24" cy="112.49" r="1.2" fill="#ED7D31"/>
<circle cx="253.28" cy="109.06" r="1.2" fill="#ED7D31"/>
<circle cx="253.63" cy="79.93" r="1.2" fill="#ED7D31"/>
<circle cx="251.56" cy="75.41" r="1.2" fill="#ED7D31"/>
<circle cx="252.55" cy="100.74" r="1.2" fill="#ED7D31"/>
<path d="M37.30 85.35L40.30 85.35L38.80 82.65Z" fill="#5B9BD5"/>
<path d="M38.20 86.85L41.20 86.85L39.70 84.15Z" fill="#5B9BD5"/>
<path d="M38.50 89.05L41.50 89.05L40.00 86.35Z" fill="#5B9BD5"/>
<path d="M37.70 101.75L40.70 101.75L39.20 99.05Z" fill="#5B9BD5"/>
<path d="M43.30 116.95L46.30 116.95L44.80 114.25Z" fill="#5B9BD5"/>
<path d="M50.00 89.75L53.00 89.75L51.50 87.05Z" fill="#5B9BD5"/>
<path d="M50.00 96.55L53.00 96.55L51.50 93.85Z" fill="#5B9BD5"/>
<path d="M50.00 101.75L53.00 101.75L51.50 99.05Z" fill="#5B9BD5"/>
<path d="M49.50 105.45L52.50 105.45L51.00 102.75Z" fill="#5B9BD5"/>
<path d="M50.00 109.25L53.00 109.25L51.50 106.55Z" fill="#5B9BD5"/>
<path d="M49.50 111.45L52.50 111.45L51.00 108.75Z" fill="#5B9BD5"/>
<path d="M50.50 116.35L53.50 116.35L52.00 113.65Z" fill="#5B9BD5"/>
<path d="M55.60 85.35L58.60 85.35L57.10 82.65Z" fill="#5B9BD5"/>
<path d="M55.40 104.75L58.40 104.75L56.90 102.05Z" fill="#5B9BD5"/>
<path d="M69.50 89.75L72.50 89.75L71.00 87.05Z" fill="#5B9BD5"/>
<path d="M71.30 93.95L74.30 93.95L72.80 91.25Z" fill="#5B9BD5"/>
<path d="M70.60 111.45L73.60 111.45L72.10 108.75Z" fill="#5B9BD5"/>
<path d="M70.10 115.15L73.10 115.15L71.60 112.45Z" fill="#5B9BD5"/>
<path d="M76.70 83.85L79.70 83.85L78.20 81.15Z" fill="#5B9BD5"/>
<path d="M78.60 94.55L81.60 94.55L80.10 91.85Z" fill="#5B9BD5"/>
<path d="M79.20 96.45L82.20 96.45L80.70 93.75Z" fill="#5B9BD5"/>
<path d="M77.20 103.25L80.20 103.25L78.70 100.55Z" fill="#5B9BD5"/>
<path d="M77.80 112.95L80.80 112.95L79.30 110.25Z" fill="#5B9BD5"/>
<path d="M80.20 99.35L83.20 99.35L81.70 96.65Z" fill="#5B9BD5"/>
<path d="M85.40 92.55L88.40 92.55L86.90 89.85Z" fill="#5B9BD5"/>
<path d="M90.80 92.55L93.80 92.55L92.30 89.85Z" fill="#5B9BD5"/>
<path d="M91.80 94.55L94.80 94.55L93.30 91.85Z" fill="#5B9BD5"/>
<path d="M88.90 104.25L91.90 104.25L90.40 101.55Z" fill="#5B9BD5"/>
<path d="M91.80 116.85L94.80 116.85L93.30 114.15Z" fill="#5B9BD5"/>
<path d="M92.80 117.35L95.80 117.35L94.30 114.65Z" fill="#5B9BD5"/>
<path d="M94.70 103.35L97.70 103.35L96.20 100.65Z" fill="#5B9BD5"/>
<path d="M95.70 92.55L98.70 92.55L97.20 89.85Z" fill="#5B9BD5"/>
<path d="M83.00 111.35L86.00 111.35L84.50 108.65Z" fill="#5B9BD5"/>
<path d="M86.50 115.35L89.50 115.35L88.00 112.65Z" fill="#5B9BD5"/>
<path d="M100.50 82.45L103.50 82.45L102.00 79.75Z" fill="#5B9BD5"/>
<path d="M100.50 86.75L103.50 86.75L102.00 84.05Z" fill="#5B9BD5"/>
<path d="M103.10 90.65L106.10 90.65L104.60 87.95Z" fill="#5B9BD5"/>
<path d="M103.50 92.55L106.50 92.55L105.00 89.85Z" fill="#5B9BD5"/>
<path d="M101.50 105.25L104.50 105.25L103.00 102.55Z" fill="#5B9BD5"/>
<path d="M102.50 112.95L105.50 112.95L104.00 110.25Z" fill="#5B9BD5"/>
<path d="M101.90 114.95L104.90 114.95L103.40 112.25Z" fill="#5B9BD5"/>
<path d="M109.30 110.45L112.30 110.45L110.80 107.75Z" fill="#5B9BD5"/>
<path d="M109.70 116.85L112.70 116.85L111.20 114.15Z" fill="#5B9BD5"/>
<path d="M119.40 103.85L122.40 103.85L120.90 101.15Z" fill="#5B9BD5"/>
<path d="M119.40 111.05L122.40 111.05L120.90 108.35Z" fill="#5B9BD5"/>
<path d="M118.60 116.85L121.60 116.85L120.10 114.15Z" fill="#5B9BD5"/>
<path d="M105.50 99.35L108.50 99.35L107.00 96.65Z" fill="#5B9BD5"/>
<path d="M124.70 85.75L127.70 85.75L126.20 83.05Z" fill="#5B9BD5"/>
<path d="M124.70 87.75L127.70 87.75L126.20 85.05Z" fill="#5B9BD5"/>
<path d="M124.70 95.55L127.70 95.55L126.20 92.85Z" fill="#5B9BD5"/>
<path d="M124.50 104.35L127.50 104.35L126.00 101.65Z" fill="#5B9BD5"/>
<path d="M125.00 109.35L128.00 109.35L126.50 106.65Z" fill="#5B9BD5"/>
<path d="M127.20 95.55L130.20 95.55L128.70 92.85Z" fill="#5B9BD5"/>
<path d="M129.10 103.35L132.10 103.35L130.60 100.65Z" fill="#5B9BD5"/>
<path d="M131.10 105.25L134.10 105.25L132.60 102.55Z" fill="#5B9BD5"/>
<path d="M132.00 103.35L135.00 103.35L133.50 100.65Z" fill="#5B9BD5"/>
<path d="M134.40 107.15L137.40 107.15L135.90 104.45Z" fill="#5B9BD5"/>
<path d="M135.50 109.05L138.50 109.05L137.00 106.35Z" fill="#5B9BD5"/>
<path d="M137.50 99.35L140.50 99.35L139.00 96.65Z" fill="#5B9BD5"/>
<path d="M139.80 98.45L142.80 98.45L141.30 95.75Z" fill="#5B9BD5"/>
<path d="M140.20 92.55L143.20 92.55L141.70 89.85Z" fill="#5B9BD5"/>
<path d="M141.40 101.35L144.40 101.35L142.90 98.65Z" fill="#5B9BD5"/>
<path d="M139.40 107.15L142.40 107.15L140.90 104.45Z" fill="#5B9BD5"/>
<path d="M137.90 111.05L140.90 111.05L139.40 108.35Z" fill="#5B9BD5"/>
<path d="M135.90 113.95L138.90 113.95L137.40 111.25Z" fill="#5B9BD5"/>
<path d="M129.50 111.35L132.50 111.35L131.00 108.65Z" fill="#5B9BD5"/>
<path d="M126.50 115.35L129.50 115.35L128.00 112.65Z" fill="#5B9BD5"/>
<path d="M142.50 116.35L145.50 116.35L144.00 113.65Z" fill="#5B9BD5"/>
<path d="M148.00 88.75L151.00 88.75L149.50 86.05Z" fill="#5B9BD5"/>
<path d="M148.00 92.55L151.00 92.55L149.50 89.85Z" fill="#5B9BD5"/>
<path d="M148.00 97.35L151.00 97.35L149.50 94.65Z" fill="#5B9BD5"/>
<path d="M147.80 101.35L150.80 101.35L149.30 98.65Z" fill="#5B9BD5"/>
<path d="M148.00 106.35L151.00 106.35L149.50 103.65Z" fill="#5B9BD5"/>
<path d="M148.00 111.35L151.00 111.35L149.50 108.65Z" fill="#5B9BD5"/>
<path d="M148.00 115.35L151.00 115.35L149.50 112.65Z" fill="#5B9BD5"/>
<path d="M156.30 113.95L159.30 113.95L157.80 111.25Z" fill="#5B9BD5"/>
<path d="M158.20 114.95L161.20 114.95L159.70 112.25Z" fill="#5B9BD5"/>
<path d="M160.20 113.95L163.20 113.95L161.70 111.25Z" fill="#5B9BD5"/>
<path d="M162.10 115.55L165.10 115.55L163.60 112.85Z" fill="#5B9BD5"/>
<path d="M164.10 111.05L167.10 111.05L165.60 108.35Z" fill="#5B9BD5"/>
<path d="M165.00 109.05L168.00 109.05L166.50 106.35Z" fill="#5B9BD5"/>
<path d="M166.50 71.35L169.50 71.35L168.00 68.65Z" fill="#5B9BD5"/>
<path d="M166.70 80.15L169.70 80.15L168.20 77.45Z" fill="#5B9BD5"/>
<path d="M167.00 87.35L170.00 87.35L168.50 84.65Z" fill="#5B9BD5"/>
<path d="M166.50 96.35L169.50 96.35L168.00 93.65Z" fill="#5B9BD5"/>
<path d="M167.00 106.35L170.00 106.35L168.50 103.65Z" fill="#5B9BD5"/>
<path d="M166.50 113.35L169.50 113.35L168.00 110.65Z" fill="#5B9BD5"/>
<path d="M173.20 70.35L176.20 70.35L174.70 67.65Z" fill="#5B9BD5"/>
<path d="M173.50 75.35L176.50 75.35L175.00 72.65Z" fill="#5B9BD5"/>
<path d="M174.50 81.35L177.50 81.35L176.00 78.65Z" fill="#5B9BD5"/>
<path d="M173.50 91.35L176.50 91.35L175.00 88.65Z" fill="#5B9BD5"/>
<path d="M173.00 101.35L176.00 101.35L174.50 98.65Z" fill="#5B9BD5"/>
<path d="M173.50 111.35L176.50 111.35L175.00 108.65Z" fill="#5B9BD5"/>
<path d="M173.20 116.35L176.20 116.35L174.70 113.65Z" fill="#5B9BD5"/>
<path d="M175.50 79.05L178.50 79.05L177.00 76.35Z" fill="#5B9BD5"/>
<path d="M176.10 81.95L179.10 81.95L177.60 79.25Z" fill="#5B9BD5"/>
<path d="M184.90 86.75L187.90 86.75L186.40 84.05Z" fill="#5B9BD5"/>
<path d="M186.40 88.75L189.40 88.75L187.90 86.05Z" fill="#5B9BD5"/>
<path d="M185.20 112.05L188.20 112.05L186.70 109.35Z" fill="#5B9BD5"/>
<path d="M186.40 114.35L189.40 114.35L187.90 111.65Z" fill="#5B9BD5"/>
<path d="M189.00 115.85L192.00 115.85L190.50 113.15Z" fill="#5B9BD5"/>
<path d="M188.60 68.55L191.60 68.55L190.10 65.85Z" fill="#5B9BD5"/>
<path d="M189.20 70.45L192.20 70.45L190.70 67.75Z" fill="#5B9BD5"/>
<path d="M188.00 79.25L191.00 79.25L189.50 76.55Z" fill="#5B9BD5"/>
<path d="M189.00 82.15L192.00 82.15L190.50 79.45Z" fill="#5B9BD5"/>
<path d="M185.70 87.95L188.70 87.95L187.20 85.25Z" fill="#5B9BD5"/>
<path d="M187.20 88.95L190.20 88.95L188.70 86.25Z" fill="#5B9BD5"/>
<path d="M189.00 86.95L192.00 86.95L190.50 84.25Z" fill="#5B9BD5"/>
<path d="M189.00 93.35L192.00 93.35L190.50 90.65Z" fill="#5B9BD5"/>
<path d="M182.50 106.35L185.50 106.35L184.00 103.65Z" fill="#5B9BD5"/>
<path d="M179.50 113.35L182.50 113.35L181.00 110.65Z" fill="#5B9BD5"/>
<path d="M195.50 55.25L198.50 55.25L197.00 52.55Z" fill="#5B9BD5"/>
<path d="M196.00 56.85L199.00 56.85L197.50 54.15Z" fill="#5B9BD5"/>
<path d="M195.50 63.35L198.50 63.35L197.00 60.65Z" fill="#5B9BD5"/>
<path d="M196.00 67.55L199.00 67.55L197.50 64.85Z" fill="#5B9BD5"/>
<path d="M196.50 70.45L199.50 70.45L198.00 67.75Z" fill="#5B9BD5"/>
<path d="M197.50 73.35L200.50 73.35L199.00 70.65Z" fill="#5B9BD5"/>
<path d="M198.50 76.35L201.50 76.35L200.00 73.65Z" fill="#5B9BD5"/>
<path d="M197.50 81.15L200.50 81.15L199.00 78.45Z" fill="#5B9BD5"/>
<path d="M198.50 82.15L201.50 82.15L200.00 79.45Z" fill="#5B9BD5"/>
<path d="M198.50 86.95L201.50 86.95L200.00 84.25Z" fill="#5B9BD5"/>
<path d="M198.00 90.85L201.00 90.85L199.50 88.15Z" fill="#5B9BD5"/>
<path d="M198.50 93.35L201.50 93.35L200.00 90.65Z" fill="#5B9BD5"/>
<path d="M199.40 100.35L202.40 100.35L200.90 97.65Z" fill="#5B9BD5"/>
<path d="M199.40 94.55L202.40 94.55L200.90 91.85Z" fill="#5B9BD5"/>
<path d="M205.20 111.05L208.20 111.05L206.70 108.35Z" fill="#5B9BD5"/>
<path d="M206.20 113.95L209.20 113.95L207.70 111.25Z" fill="#5B9BD5"/>
<path d="M207.80 115.55L210.80 115.55L209.30 112.85Z" fill="#5B9BD5"/>
<path d="M209.70 98.45L212.70 98.45L211.20 95.75Z" fill="#5B9BD5"/>
<path d="M208.50 102.35L211.50 102.35L210.00 99.65Z" fill="#5B9BD5"/>
<path d="M209.50 92.35L212.50 92.35L211.00 89.65Z" fill="#5B9BD5"/>
<path d="M189.30 70.25L192.30 70.25L190.80 67.55Z" fill="#5B9BD5"/>
<path d="M188.40 68.85L191.40 68.85L189.90 66.15Z" fill="#5B9BD5"/>
<path d="M216.00 87.75L219.00 87.75L217.50 85.05Z" fill="#5B9BD5"/>
<path d="M217.00 90.35L220.00 90.35L218.50 87.65Z" fill="#5B9BD5"/>
<path d="M215.00 93.35L218.00 93.35L216.50 90.65Z" fill="#5B9BD5"/>
<path d="M217.50 96.35L220.50 96.35L219.00 93.65Z" fill="#5B9BD5"/>
<path d="M215.50 99.35L218.50 99.35L217.00 96.65Z" fill="#5B9BD5"/>
<path d="M221.70 82.45L224.70 82.45L223.20 79.75Z" fill="#5B9BD5"/>
<path d="M222.50 84.45L225.50 84.45L224.00 81.75Z" fill="#5B9BD5"/>
<path d="M221.80 91.65L224.80 91.65L223.30 88.95Z" fill="#5B9BD5"/>
<path d="M221.70 97.45L224.70 97.45L223.20 94.75Z" fill="#5B9BD5"/>
<path d="M223.60 105.25L226.60 105.25L225.10 102.55Z" fill="#5B9BD5"/>
<path d="M224.00 110.45L227.00 110.45L225.50 107.75Z" fill="#5B9BD5"/>
<path d="M225.00 112.05L228.00 112.05L226.50 109.35Z" fill="#5B9BD5"/>
<path d="M223.10 110.45L226.10 110.45L224.60 107.75Z" fill="#5B9BD5"/>
<path d="M227.90 81.35L230.90 81.35L229.40 78.65Z" fill="#5B9BD5"/>
<path d="M228.30 88.75L231.30 88.75L229.80 86.05Z" fill="#5B9BD5"/>
<path d="M230.80 86.75L233.80 86.75L232.30 84.05Z" fill="#5B9BD5"/>
<path d="M232.20 89.65L235.20 89.65L233.70 86.95Z" fill="#5B9BD5"/>
<path d="M228.30 98.45L231.30 98.45L229.80 95.75Z" fill="#5B9BD5"/>
<path d="M232.20 114.95L235.20 114.95L233.70 112.25Z" fill="#5B9BD5"/>
<path d="M227.90 97.45L230.90 97.45L229.40 94.75Z" fill="#5B9BD5"/>
<path d="M238.00 81.95L241.00 81.95L239.50 79.25Z" fill="#5B9BD5"/>
<path d="M238.00 88.75L241.00 88.75L239.50 86.05Z" fill="#5B9BD5"/>
<path d="M238.00 94.35L241.00 94.35L239.50 91.65Z" fill="#5B9BD5"/>
<path d="M238.00 100.35L241.00 100.35L239.50 97.65Z" fill="#5B9BD5"/>
<path d="M237.80 106.35L240.80 106.35L239.30 103.65Z" fill="#5B9BD5"/>
<path d="M237.50 112.35L240.50 112.35L239.00 109.65Z" fill="#5B9BD5"/>
<path d="M249.50 65.95L252.50 65.95L251.00 63.25Z" fill="#5B9BD5"/>
<path d="M249.50 77.35L252.50 77.35L251.00 74.65Z" fill="#5B9BD5"/>
<path d="M250.00 85.35L253.00 85.35L251.50 82.65Z" fill="#5B9BD5"/>
<path d="M249.50 93.35L252.50 93.35L251.00 90.65Z" fill="#5B9BD5"/>
<path d="M251.00 99.35L254.00 99.35L252.50 96.65Z" fill="#5B9BD5"/>
<path d="M249.50 106.35L252.50 106.35L251.00 103.65Z" fill="#5B9BD5"/>
<path d="M250.50 113.35L253.50 113.35L252.00 110.65Z" fill="#5B9BD5"/>
<path d="M253.00 83.35L256.00 83.35L254.50 80.65Z" fill="#5B9BD5"/>
<path d="M253.50 91.35L256.50 91.35L255.00 88.65Z" fill="#5B9BD5"/>
<path d="M252.50 99.35L255.50 99.35L254.00 96.65Z" fill="#5B9BD5"/>
<path d="M254.00 107.35L257.00 107.35L255.50 104.65Z" fill="#5B9BD5"/>
<path d="M253.50 115.35L256.50 115.35L255.00 112.65Z" fill="#5B9BD5"/>
<path d="M260.50 100.35L263.50 100.35L262.00 97.65Z" fill="#5B9BD5"/>
<path d="M260.90 110.05L263.90 110.05L262.40 107.35Z" fill="#5B9BD5"/>
<path d="M262.20 111.65L265.20 111.65L263.70 108.95Z" fill="#5B9BD5"/>
<path d="M264.20 112.35L267.20 112.35L265.70 109.65Z" fill="#5B9BD5"/>
<path d="M266.10 112.95L269.10 112.95L267.60 110.25Z" fill="#5B9BD5"/>
<path d="M270.00 109.65L273.00 109.65L271.50 106.95Z" fill="#5B9BD5"/>
<path d="M273.50 85.75L276.50 85.75L275.00 83.05Z" fill="#5B9BD5"/>
<path d="M273.50 87.75L276.50 87.75L275.00 85.05Z" fill="#5B9BD5"/>
<path d="M273.50 98.45L276.50 98.45L275.00 95.75Z" fill="#5B9BD5"/>
<path d="M264.80 114.95L267.80 114.95L266.30 112.25Z" fill="#5B9BD5"/>
<path d="M266.80 113.55L269.80 113.55L268.30 110.85Z" fill="#5B9BD5"/>
<path d="M283.60 71.25L286.60 71.25L285.10 68.55Z" fill="#5B9BD5"/>
<path d="M287.50 76.05L290.50 76.05L289.00 73.35Z" fill="#5B9BD5"/>
<path d="M289.40 76.05L292.40 76.05L290.90 73.35Z" fill="#5B9BD5"/>
<path d="M288.50 78.05L291.50 78.05L290.00 75.35Z" fill="#5B9BD5"/>
<path d="M282.60 85.75L285.60 85.75L284.10 83.05Z" fill="#5B9BD5"/>
<path d="M285.50 86.75L288.50 86.75L287.00 84.05Z" fill="#5B9BD5"/>
<path d="M291.40 85.75L294.40 85.75L292.90 83.05Z" fill="#5B9BD5"/>
<path d="M280.30 112.05L283.30 112.05L281.80 109.35Z" fill="#5B9BD5"/>
<path d="M280.70 114.95L283.70 114.95L282.20 112.25Z" fill="#5B9BD5"/>
<path d="M292.30 99.35L295.30 99.35L293.80 96.65Z" fill="#5B9BD5"/>
<path d="M296.20 85.75L299.20 85.75L297.70 83.05Z" fill="#5B9BD5"/>
<path d="M296.60 95.55L299.60 95.55L298.10 92.85Z" fill="#5B9BD5"/>
<path d="M294.30 114.95L297.30 114.95L295.80 112.25Z" fill="#5B9BD5"/>
<path d="M296.60 113.95L299.60 113.95L298.10 111.25Z" fill="#5B9BD5"/>
<path d="M296.10 85.15L299.10 85.15L297.60 82.45Z" fill="#5B9BD5"/>
<path d="M296.10 95.35L299.10 95.35L297.60 92.65Z" fill="#5B9BD5"/>
<path d="M295.50 111.35L298.50 111.35L297.00 108.65Z" fill="#5B9BD5"/>
<path d="M302.20 99.25L305.20 99.25L303.70 96.55Z" fill="#5B9BD5"/>
<path d="M305.40 99.25L308.40 99.25L306.90 96.55Z" fill="#5B9BD5"/>
<path d="M302.20 112.25L305.20 112.25L303.70 109.55Z" fill="#5B9BD5"/>
<path d="M309.10 105.75L312.10 105.75L310.60 103.05Z" fill="#5B9BD5"/>
<path d="M310.80 107.25L313.80 107.25L312.30 104.55Z" fill="#5B9BD5"/>
<path d="M311.90 113.35L314.90 113.35L313.40 110.65Z" fill="#5B9BD5"/>
<path d="M307.60 116.55L310.60 116.55L309.10 113.85Z" fill="#5B9BD5"/>
<path d="M313.00 117.15L316.00 117.15L314.50 114.45Z" fill="#5B9BD5"/>
<path d="M305.90 105.25L308.90 105.25L307.40 102.55Z" fill="#5B9BD5"/>
<path d="M315.60 94.85L318.60 94.85L317.10 92.15Z" fill="#5B9BD5"/>
<path d="M319.50 92.75L322.50 92.75L321.00 90.05Z" fill="#5B9BD5"/>
<path d="M319.00 94.85L322.00 94.85L320.50 92.15Z" fill="#5B9BD5"/>
<path d="M315.10 101.35L318.10 101.35L316.60 98.65Z" fill="#5B9BD5"/>
<path d="M319.50 105.75L322.50 105.75L321.00 103.05Z" fill="#5B9BD5"/>
<path d="M314.70 115.05L317.70 115.05L316.20 112.35Z" fill="#5B9BD5"/>
<path d="M325.50 99.25L328.50 99.25L327.00 96.55Z" fill="#5B9BD5"/>
<path d="M327.00 112.25L330.00 112.25L328.50 109.55Z" fill="#5B9BD5"/>
<path d="M329.20 114.35L332.20 114.35L330.70 111.65Z" fill="#5B9BD5"/>
<path d="M327.00 114.35L330.00 114.35L328.50 111.65Z" fill="#5B9BD5"/>
<path d="M339.00 112.25L342.00 112.25L340.50 109.55Z" fill="#5B9BD5"/>
<path d="M340.00 114.35L343.00 114.35L341.50 111.65Z" fill="#5B9BD5"/>
<path d="M341.60 101.35L344.60 101.35L343.10 98.65Z" fill="#5B9BD5"/>
<path d="M80.26 96.37L83.26 96.37L81.76 93.67Z" fill="#5B9BD5"/>
<path d="M80.07 101.72L83.07 101.72L81.57 99.02Z" fill="#5B9BD5"/>
<path d="M78.93 97.94L81.93 97.94L80.43 95.24Z" fill="#5B9BD5"/>
<path d="M79.19 113.30L82.19 113.30L80.69 110.60Z" fill="#5B9BD5"/>
<path d="M86.96 108.26L89.96 108.26L88.46 105.56Z" fill="#5B9BD5"/>
<path d="M88.65 113.98L91.65 113.98L90.15 111.28Z" fill="#5B9BD5"/>
<path d="M89.88 102.82L92.88 102.82L91.38 100.12Z" fill="#5B9BD5"/>
<path d="M95.10 91.94L98.10 91.94L96.60 89.24Z" fill="#5B9BD5"/>
<path d="M94.81 97.83L97.81 97.83L96.31 95.13Z" fill="#5B9BD5"/>
<path d="M101.47 87.10L104.47 87.10L102.97 84.40Z" fill="#5B9BD5"/>
<path d="M101.29 107.93L104.29 107.93L102.79 105.23Z" fill="#5B9BD5"/>
<path d="M101.41 91.27L104.41 91.27L102.91 88.57Z" fill="#5B9BD5"/>
<path d="M101.83 111.24L104.83 111.24L103.33 108.54Z" fill="#5B9BD5"/>
<path d="M101.33 97.72L104.33 97.72L102.83 95.02Z" fill="#5B9BD5"/>
<path d="M124.27 100.87L127.27 100.87L125.77 98.17Z" fill="#5B9BD5"/>
<path d="M124.84 93.76L127.84 93.76L126.34 91.06Z" fill="#5B9BD5"/>
<path d="M123.91 98.76L126.91 98.76L125.41 96.06Z" fill="#5B9BD5"/>
<path d="M124.49 103.47L127.49 103.47L125.99 100.77Z" fill="#5B9BD5"/>
<path d="M132.54 98.76L135.54 98.76L134.04 96.06Z" fill="#5B9BD5"/>
<path d="M126.97 102.26L129.97 102.26L128.47 99.56Z" fill="#5B9BD5"/>
<path d="M130.91 108.05L133.91 108.05L132.41 105.35Z" fill="#5B9BD5"/>
<path d="M142.76 104.61L145.76 104.61L144.26 101.91Z" fill="#5B9BD5"/>
<path d="M142.43 112.18L145.43 112.18L143.93 109.48Z" fill="#5B9BD5"/>
<path d="M142.74 103.45L145.74 103.45L144.24 100.75Z" fill="#5B9BD5"/>
<path d="M130.25 101.53L133.25 101.53L131.75 98.83Z" fill="#5B9BD5"/>
<path d="M129.84 101.21L132.84 101.21L131.34 98.51Z" fill="#5B9BD5"/>
<path d="M137.11 110.95L140.11 110.95L138.61 108.25Z" fill="#5B9BD5"/>
<path d="M140.79 105.06L143.79 105.06L142.29 102.36Z" fill="#5B9BD5"/>
<path d="M137.60 109.55L140.60 109.55L139.10 106.85Z" fill="#5B9BD5"/>
<path d="M127.94 107.60L130.94 107.60L129.44 104.90Z" fill="#5B9BD5"/>
<path d="M141.97 109.30L144.97 109.30L143.47 106.60Z" fill="#5B9BD5"/>
<path d="M139.25 105.04L142.25 105.04L140.75 102.34Z" fill="#5B9BD5"/>
<path d="M129.53 109.40L132.53 109.40L131.03 106.70Z" fill="#5B9BD5"/>
<path d="M132.15 109.56L135.15 109.56L133.65 106.86Z" fill="#5B9BD5"/>
<path d="M128.66 113.11L131.66 113.11L130.16 110.41Z" fill="#5B9BD5"/>
<path d="M141.88 116.38L144.88 116.38L143.38 113.68Z" fill="#5B9BD5"/>
<path d="M128.98 116.48L131.98 116.48L130.48 113.78Z" fill="#5B9BD5"/>
<path d="M148.33 92.89L151.33 92.89L149.83 90.19Z" fill="#5B9BD5"/>
<path d="M147.75 95.43L150.75 95.43L149.25 92.73Z" fill="#5B9BD5"/>
<path d="M147.74 104.53L150.74 104.53L149.24 101.83Z" fill="#5B9BD5"/>
<path d="M147.76 99.34L150.76 99.34L149.26 96.64Z" fill="#5B9BD5"/>
<path d="M147.63 114.56L150.63 114.56L149.13 111.86Z" fill="#5B9BD5"/>
<path d="M147.85 100.55L150.85 100.55L149.35 97.85Z" fill="#5B9BD5"/>
<path d="M148.08 114.38L151.08 114.38L149.58 111.68Z" fill="#5B9BD5"/>
<path d="M166.57 105.27L169.57 105.27L168.07 102.57Z" fill="#5B9BD5"/>
<path d="M166.03 92.73L169.03 92.73L167.53 90.03Z" fill="#5B9BD5"/>
<path d="M166.20 76.86L169.20 76.86L167.70 74.16Z" fill="#5B9BD5"/>
<path d="M166.83 89.78L169.83 89.78L168.33 87.08Z" fill="#5B9BD5"/>
<path d="M166.57 103.91L169.57 103.91L168.07 101.21Z" fill="#5B9BD5"/>
<path d="M166.99 86.17L169.99 86.17L168.49 83.47Z" fill="#5B9BD5"/>
<path d="M174.04 75.93L177.04 75.93L175.54 73.23Z" fill="#5B9BD5"/>
<path d="M172.89 90.57L175.89 90.57L174.39 87.87Z" fill="#5B9BD5"/>
<path d="M172.82 80.90L175.82 80.90L174.32 78.20Z" fill="#5B9BD5"/>
<path d="M172.82 101.48L175.82 101.48L174.32 98.78Z" fill="#5B9BD5"/>
<path d="M173.95 112.41L176.95 112.41L175.45 109.71Z" fill="#5B9BD5"/>
<path d="M172.95 103.72L175.95 103.72L174.45 101.02Z" fill="#5B9BD5"/>
<path d="M173.76 76.21L176.76 76.21L175.26 73.51Z" fill="#5B9BD5"/>
<path d="M189.06 68.32L192.06 68.32L190.56 65.62Z" fill="#5B9BD5"/>
<path d="M188.79 89.37L191.79 89.37L190.29 86.67Z" fill="#5B9BD5"/>
<path d="M187.93 83.92L190.93 83.92L189.43 81.22Z" fill="#5B9BD5"/>
<path d="M188.90 92.96L191.90 92.96L190.40 90.26Z" fill="#5B9BD5"/>
<path d="M188.00 116.60L191.00 116.60L189.50 113.90Z" fill="#5B9BD5"/>
<path d="M189.16 115.93L192.16 115.93L190.66 113.23Z" fill="#5B9BD5"/>
<path d="M188.07 80.63L191.07 80.63L189.57 77.93Z" fill="#5B9BD5"/>
<path d="M195.47 98.27L198.47 98.27L196.97 95.57Z" fill="#5B9BD5"/>
<path d="M196.82 91.43L199.82 91.43L198.32 88.73Z" fill="#5B9BD5"/>
<path d="M195.50 94.16L198.50 94.16L197.00 91.46Z" fill="#5B9BD5"/>
<path d="M195.46 94.49L198.46 94.49L196.96 91.79Z" fill="#5B9BD5"/>
<path d="M196.39 68.31L199.39 68.31L197.89 65.61Z" fill="#5B9BD5"/>
<path d="M196.63 97.68L199.63 97.68L198.13 94.98Z" fill="#5B9BD5"/>
<path d="M195.94 57.81L198.94 57.81L197.44 55.11Z" fill="#5B9BD5"/>
<path d="M196.56 63.27L199.56 63.27L198.06 60.57Z" fill="#5B9BD5"/>
<path d="M195.56 59.42L198.56 59.42L197.06 56.72Z" fill="#5B9BD5"/>
<path d="M195.42 61.44L198.42 61.44L196.92 58.74Z" fill="#5B9BD5"/>
<path d="M208.15 104.86L211.15 104.86L209.65 102.16Z" fill="#5B9BD5"/>
<path d="M203.94 113.71L206.94 113.71L205.44 111.01Z" fill="#5B9BD5"/>
<path d="M202.61 106.50L205.61 106.50L204.11 103.80Z" fill="#5B9BD5"/>
<path d="M206.44 116.96L209.44 116.96L207.94 114.26Z" fill="#5B9BD5"/>
<path d="M215.18 98.18L218.18 98.18L216.68 95.48Z" fill="#5B9BD5"/>
<path d="M221.46 94.76L224.46 94.76L222.96 92.06Z" fill="#5B9BD5"/>
<path d="M216.76 86.19L219.76 86.19L218.26 83.49Z" fill="#5B9BD5"/>
<path d="M216.84 90.54L219.84 90.54L218.34 87.84Z" fill="#5B9BD5"/>
<path d="M215.76 90.27L218.76 90.27L217.26 87.57Z" fill="#5B9BD5"/>
<path d="M227.99 95.73L230.99 95.73L229.49 93.03Z" fill="#5B9BD5"/>
<path d="M227.73 82.16L230.73 82.16L229.23 79.46Z" fill="#5B9BD5"/>
<path d="M229.17 89.73L232.17 89.73L230.67 87.03Z" fill="#5B9BD5"/>
<path d="M230.72 100.40L233.72 100.40L232.22 97.70Z" fill="#5B9BD5"/>
<path d="M231.63 105.02L234.63 105.02L233.13 102.32Z" fill="#5B9BD5"/>
<path d="M238.19 102.68L241.19 102.68L239.69 99.98Z" fill="#5B9BD5"/>
<path d="M238.03 108.97L241.03 108.97L239.53 106.27Z" fill="#5B9BD5"/>
<path d="M237.44 99.16L240.44 99.16L238.94 96.46Z" fill="#5B9BD5"/>
<path d="M237.80 109.74L240.80 109.74L239.30 107.04Z" fill="#5B9BD5"/>
<path d="M238.10 109.45L241.10 109.45L239.60 106.75Z" fill="#5B9BD5"/>
<path d="M250.20 100.43L253.20 100.43L251.70 97.73Z" fill="#5B9BD5"/>
<path d="M249.98 64.53L252.98 64.53L251.48 61.83Z" fill="#5B9BD5"/>
<path d="M250.48 104.01L253.48 104.01L251.98 101.31Z" fill="#5B9BD5"/>
<path d="M250.00 92.72L253.00 92.72L251.50 90.02Z" fill="#5B9BD5"/>
<path d="M250.25 67.85L253.25 67.85L251.75 65.15Z" fill="#5B9BD5"/>
<path d="M250.38 77.72L253.38 77.72L251.88 75.02Z" fill="#5B9BD5"/>
<path d="M253.82 101.65L256.82 101.65L255.32 98.95Z" fill="#5B9BD5"/>
<path d="M253.67 79.53L256.67 79.53L255.17 76.83Z" fill="#5B9BD5"/>
<path d="M253.08 86.76L256.08 86.76L254.58 84.06Z" fill="#5B9BD5"/>
<path d="M253.79 88.83L256.79 88.83L255.29 86.13Z" fill="#5B9BD5"/>
<path d="M253.58 76.86L256.58 76.86L255.08 74.16Z" fill="#5B9BD5"/>
<path d="M262.76 98.60L265.76 98.60L264.26 95.90Z" fill="#5B9BD5"/>
<path d="M265.76 100.14L268.76 100.14L267.26 97.44Z" fill="#5B9BD5"/>
<path d="M266.35 114.14L269.35 114.14L267.85 111.44Z" fill="#5B9BD5"/>
<path d="M259.62 105.07L262.62 105.07L261.12 102.37Z" fill="#5B9BD5"/>
<path d="M273.21 92.14L276.21 92.14L274.71 89.44Z" fill="#5B9BD5"/>
<path d="M273.14 90.88L276.14 90.88L274.64 88.18Z" fill="#5B9BD5"/>
<path d="M273.95 82.27L276.95 82.27L275.45 79.57Z" fill="#5B9BD5"/>
<path d="M286.01 79.58L289.01 79.58L287.51 76.88Z" fill="#5B9BD5"/>
<path d="M282.91 80.17L285.91 80.17L284.41 77.47Z" fill="#5B9BD5"/>
<path d="M284.66 87.11L287.66 87.11L286.16 84.41Z" fill="#5B9BD5"/>
<path d="M281.52 85.86L284.52 85.86L283.02 83.16Z" fill="#5B9BD5"/>
<path d="M296.03 97.62L299.03 97.62L297.53 94.92Z" fill="#5B9BD5"/>
<path d="M295.93 85.85L298.93 85.85L297.43 83.15Z" fill="#5B9BD5"/>
<path d="M295.72 110.22L298.72 110.22L297.22 107.52Z" fill="#5B9BD5"/>
<path d="M295.94 113.35L298.94 113.35L297.44 110.65Z" fill="#5B9BD5"/>
<path d="M312.66 106.88L315.66 106.88L314.16 104.18Z" fill="#5B9BD5"/>
<path d="M307.43 109.47L310.43 109.47L308.93 106.77Z" fill="#5B9BD5"/>
<path d="M305.42 114.22L308.42 114.22L306.92 111.52Z" fill="#5B9BD5"/>
<path d="M313.23 108.47L316.23 108.47L314.73 105.77Z" fill="#5B9BD5"/>
<path d="M309.54 108.96L312.54 108.96L311.04 106.26Z" fill="#5B9BD5"/>
<path d="M317.22 117.26L320.22 117.26L318.72 114.56Z" fill="#5B9BD5"/>
<path d="M315.85 94.98L318.85 94.98L317.35 92.28Z" fill="#5B9BD5"/>
<path d="M315.08 93.71L318.08 93.71L316.58 91.01Z" fill="#5B9BD5"/>
<path d="M197.51 90.98L200.51 90.98L199.01 88.28Z" fill="#5B9BD5"/>
<path d="M198.59 68.23L201.59 68.23L200.09 65.53Z" fill="#5B9BD5"/>
<path d="M196.81 70.01L199.81 70.01L198.31 67.31Z" fill="#5B9BD5"/>
<path d="M197.20 80.87L200.20 80.87L198.70 78.17Z" fill="#5B9BD5"/>
<path d="M198.86 103.03L201.86 103.03L200.36 100.33Z" fill="#5B9BD5"/>
<path d="M198.62 57.55L201.62 57.55L200.12 54.85Z" fill="#5B9BD5"/>
<path d="M196.10 95.37L199.10 95.37L197.60 92.67Z" fill="#5B9BD5"/>
<path d="M198.69 82.38L201.69 82.38L200.19 79.68Z" fill="#5B9BD5"/>
<path d="M252.06 103.99L255.06 103.99L253.56 101.29Z" fill="#5B9BD5"/>
<path d="M251.35 106.06L254.35 106.06L252.85 103.36Z" fill="#5B9BD5"/>
<path d="M250.90 95.82L253.90 95.82L252.40 93.12Z" fill="#5B9BD5"/>
<path d="M249.89 106.90L252.89 106.90L251.39 104.20Z" fill="#5B9BD5"/>
<path d="M250.36 113.51L253.36 113.51L251.86 110.81Z" fill="#5B9BD5"/>
<path d="M251.35 83.93L254.35 83.93L252.85 81.23Z" fill="#5B9BD5"/>
<polyline points="39.70,90.00 40.00,102.60 43.70,103.10 46.70,104.90 49.70,106.40 51.20,104.90 51.50,96.00 51.80,90.00" fill="none" stroke="#FF0000" stroke-width="0.9" stroke-linejoin="round" stroke-linecap="round" />
<polyline points="56.90,92.90 57.10,107.90 62.40,107.90 65.40,107.60 67.60,108.60 71.60,108.60 72.50,104.10" fill="none" stroke="#FF0000" stroke-width="0.9" stroke-linejoin="round" stroke-linecap="round" />
<polyline points="78.70,106.80 81.70,101.00 84.60,98.00 87.50,101.90 90.40,104.80 92.30,100.00 94.30,106.80 96.20,101.00" fill="none" stroke="#FF0000" stroke-width="0.9" stroke-linejoin="round" stroke-linecap="round" />
<polyline points="102.00,91.20 104.00,94.20 106.90,96.10 109.80,100.00 111.70,104.80 115.60,105.80 120.90,105.80" fill="none" stroke="#FF0000" stroke-width="0.9" stroke-linejoin="round" stroke-linecap="round" />
<polyline points="126.20,91.20 126.70,99.00 129.70,102.00 132.60,104.80 135.50,100.00 138.40,102.90 141.30,100.00 143.20,97.10" fill="none" stroke="#FF0000" stroke-width="0.9" stroke-linejoin="round" stroke-linecap="round" />
<polyline points="149.50,88.30 150.00,106.50 153.00,107.00 157.40,107.30 158.50,111.50 163.50,112.00 165.50,109.00 167.00,100.00 167.60,88.00 167.80,72.00" fill="none" stroke="#FF0000" stroke-width="0.9" stroke-linejoin="round" stroke-linecap="round" />
<polyline points="175.20,70.00 175.50,86.00 177.50,87.60 183.30,92.00 186.40,94.20 186.70,101.90 189.30,101.90 190.20,95.10 190.60,78.80" fill="none" stroke="#FF0000" stroke-width="0.9" stroke-linejoin="round" stroke-linecap="round" />
<polyline points="197.50,49.00 197.50,91.20 200.00,99.00 201.90,101.00 203.80,98.00 206.20,104.80 207.30,112.60 208.70,107.70 210.00,99.00 211.60,87.40 211.60,85.00" fill="none" stroke="#FF0000" stroke-width="0.9" stroke-linejoin="round" stroke-linecap="round" />
<polyline points="216.50,95.00 219.40,91.20 220.70,88.30 222.00,90.30 224.00,99.00 225.50,102.00 227.50,100.00 229.40,92.20 231.40,95.10 232.90,96.10 233.70,111.60" fill="none" stroke="#FF0000" stroke-width="0.9" stroke-linejoin="round" stroke-linecap="round" />
<polyline points="239.10,91.20 240.10,107.70 244.00,106.80 247.90,104.80 249.80,102.00 250.80,77.70 251.20,68.00" fill="none" stroke="#FF0000" stroke-width="0.9" stroke-linejoin="round" stroke-linecap="round" />
<polyline points="261.80,100.00 263.00,106.00 265.00,110.50 267.00,112.00 270.00,112.00 272.00,107.00 274.00,101.00 275.50,96.00 276.00,92.00" fill="none" stroke="#FF0000" stroke-width="0.9" stroke-linejoin="round" stroke-linecap="round" />
<polyline points="282.20,102.90 283.70,94.20 285.10,85.40 287.00,82.50 290.00,79.60 291.90,81.50 293.40,89.30 295.80,95.10 297.70,103.90 298.00,92.50" fill="none" stroke="#FF0000" stroke-width="0.9" stroke-linejoin="round" stroke-linecap="round" />
<polyline points="303.70,97.90 304.10,104.40 305.80,108.70 309.10,112.00 313.40,112.00 315.60,108.70 316.60,101.10 317.70,96.80 319.90,92.50 321.00,91.40" fill="none" stroke="#FF0000" stroke-width="0.9" stroke-linejoin="round" stroke-linecap="round" />
<polyline points="327.00,101.10 328.50,107.60 330.70,110.90 334.00,110.20 337.20,110.40 340.50,110.20 343.10,110.90 343.70,102.20" fill="none" stroke="#FF0000" stroke-width="0.9" stroke-linejoin="round" stroke-linecap="round" />
<line x1="39" y1="153.9" x2="39" y2="243.8" stroke="#D0D0D0" stroke-width="1"/>
<line x1="39" y1="243.8" x2="342" y2="243.8" stroke="#D0D0D0" stroke-width="1"/>
<line x1="39" y1="243.90" x2="41.5" y2="243.90" stroke="#D0D0D0" stroke-width="1"/>
<text x="29.6" y="247.55" font-size="10.2" text-anchor="end" fill="#1a1a1a" stroke="#1a1a1a" stroke-width="0.25" font-weight="normal" textLength="12.6" lengthAdjust="spacingAndGlyphs" >0.0</text>
<line x1="39" y1="226.04" x2="41.5" y2="226.04" stroke="#D0D0D0" stroke-width="1"/>
<text x="29.6" y="229.69" font-size="10.2" text-anchor="end" fill="#1a1a1a" stroke="#1a1a1a" stroke-width="0.25" font-weight="normal" textLength="12.6" lengthAdjust="spacingAndGlyphs" >0.2</text>
<line x1="39" y1="208.18" x2="41.5" y2="208.18" stroke="#D0D0D0" stroke-width="1"/>
<text x="29.6" y="211.83" font-size="10.2" text-anchor="end" fill="#1a1a1a" stroke="#1a1a1a" stroke-width="0.25" font-weight="normal" textLength="12.6" lengthAdjust="spacingAndGlyphs" >0.4</text>
<line x1="39" y1="190.32" x2="41.5" y2="190.32" stroke="#D0D0D0" stroke-width="1"/>
<text x="29.6" y="193.97" font-size="10.2" text-anchor="end" fill="#1a1a1a" stroke="#1a1a1a" stroke-width="0.25" font-weight="normal" textLength="12.6" lengthAdjust="spacingAndGlyphs" >0.6</text>
<line x1="39" y1="172.46" x2="41.5" y2="172.46" stroke="#D0D0D0" stroke-width="1"/>
<text x="29.6" y="176.10999999999999" font-size="10.2" text-anchor="end" fill="#1a1a1a" stroke="#1a1a1a" stroke-width="0.25" font-weight="normal" textLength="12.6" lengthAdjust="spacingAndGlyphs" >0.8</text>
<line x1="39" y1="154.60" x2="41.5" y2="154.60" stroke="#D0D0D0" stroke-width="1"/>
<text x="29.6" y="158.25" font-size="10.2" text-anchor="end" fill="#1a1a1a" stroke="#1a1a1a" stroke-width="0.25" font-weight="normal" textLength="12.6" lengthAdjust="spacingAndGlyphs" >1.0</text>
<line x1="39.20" y1="240.8" x2="39.20" y2="243.8" stroke="#D0D0D0" stroke-width="1"/>
<text x="39.20" y="260.8" font-size="10.3" text-anchor="middle" fill="#1a1a1a" stroke="#1a1a1a" stroke-width="0.25" font-weight="normal" textLength="5.4" lengthAdjust="spacingAndGlyphs" >0</text>
<line x1="85.15" y1="240.8" x2="85.15" y2="243.8" stroke="#D0D0D0" stroke-width="1"/>
<text x="85.15" y="260.8" font-size="10.3" text-anchor="middle" fill="#1a1a1a" stroke="#1a1a1a" stroke-width="0.25" font-weight="normal" textLength="16.0" lengthAdjust="spacingAndGlyphs" >100</text>
<line x1="131.10" y1="240.8" x2="131.10" y2="243.8" stroke="#D0D0D0" stroke-width="1"/>
<text x="131.10" y="260.8" font-size="10.3" text-anchor="middle" fill="#1a1a1a" stroke="#1a1a1a" stroke-width="0.25" font-weight="normal" textLength="16.0" lengthAdjust="spacingAndGlyphs" >200</text>
<line x1="177.05" y1="240.8" x2="177.05" y2="243.8" stroke="#D0D0D0" stroke-width="1"/>
<text x="177.05" y="260.8" font-size="10.3" text-anchor="middle" fill="#1a1a1a" stroke="#1a1a1a" stroke-width="0.25" font-weight="normal" textLength="16.0" lengthAdjust="spacingAndGlyphs" >300</text>
<line x1="223.00" y1="240.8" x2="223.00" y2="243.8" stroke="#D0D0D0" stroke-width="1"/>
<text x="223.00" y="260.8" font-size="10.3" text-anchor="middle" fill="#1a1a1a" stroke="#1a1a1a" stroke-width="0.25" font-weight="normal" textLength="16.0" lengthAdjust="spacingAndGlyphs" >400</text>
<line x1="268.95" y1="240.8" x2="268.95" y2="243.8" stroke="#D0D0D0" stroke-width="1"/>
<text x="268.95" y="260.8" font-size="10.3" text-anchor="middle" fill="#1a1a1a" stroke="#1a1a1a" stroke-width="0.25" font-weight="normal" textLength="16.0" lengthAdjust="spacingAndGlyphs" >500</text>
<line x1="314.90" y1="240.8" x2="314.90" y2="243.8" stroke="#D0D0D0" stroke-width="1"/>
<text x="314.90" y="260.8" font-size="10.3" text-anchor="middle" fill="#1a1a1a" stroke="#1a1a1a" stroke-width="0.25" font-weight="normal" textLength="16.0" lengthAdjust="spacingAndGlyphs" >600</text>
<text x="332" y="260.8" font-size="10.3" text-anchor="start" fill="#1a1a1a" stroke="#1a1a1a" stroke-width="0.25" font-weight="normal" textLength="12.6" lengthAdjust="spacingAndGlyphs" >Mb</text>
<line x1="194" y1="132.5" x2="39" y2="153.4" stroke="#B0B0B0" stroke-width="1" stroke-dasharray="1 1"/>
<line x1="214.5" y1="132" x2="341" y2="152.6" stroke="#B0B0B0" stroke-width="1" stroke-dasharray="1 1"/>
<circle cx="53.80" cy="168.70" r="1.75" fill="#ED7D31"/>
<circle cx="51.80" cy="172.00" r="1.75" fill="#ED7D31"/>
<circle cx="50.30" cy="185.80" r="1.75" fill="#ED7D31"/>
<circle cx="44.80" cy="194.80" r="1.75" fill="#ED7D31"/>
<circle cx="59.90" cy="191.30" r="1.75" fill="#ED7D31"/>
<circle cx="40.00" cy="214.00" r="1.75" fill="#ED7D31"/>
<circle cx="43.30" cy="237.90" r="1.75" fill="#ED7D31"/>
<circle cx="66.80" cy="202.10" r="1.75" fill="#ED7D31"/>
<circle cx="66.30" cy="205.30" r="1.75" fill="#ED7D31"/>
<circle cx="68.70" cy="207.10" r="1.75" fill="#ED7D31"/>
<circle cx="73.20" cy="208.40" r="1.75" fill="#ED7D31"/>
<circle cx="72.30" cy="213.10" r="1.75" fill="#ED7D31"/>
<circle cx="74.90" cy="213.90" r="1.75" fill="#ED7D31"/>
<circle cx="63.50" cy="224.20" r="1.75" fill="#ED7D31"/>
<circle cx="86.10" cy="218.60" r="1.75" fill="#ED7D31"/>
<circle cx="89.60" cy="220.50" r="1.75" fill="#ED7D31"/>
<circle cx="95.10" cy="220.80" r="1.75" fill="#ED7D31"/>
<circle cx="100.20" cy="225.40" r="1.75" fill="#ED7D31"/>
<circle cx="101.70" cy="226.70" r="1.75" fill="#ED7D31"/>
<circle cx="103.00" cy="225.40" r="1.75" fill="#ED7D31"/>
<circle cx="99.90" cy="232.80" r="1.75" fill="#ED7D31"/>
<circle cx="106.30" cy="223.60" r="1.75" fill="#ED7D31"/>
<circle cx="118.60" cy="224.90" r="1.75" fill="#ED7D31"/>
<circle cx="122.80" cy="225.40" r="1.75" fill="#ED7D31"/>
<circle cx="122.80" cy="231.00" r="1.75" fill="#ED7D31"/>
<circle cx="128.30" cy="226.00" r="1.75" fill="#ED7D31"/>
<circle cx="145.70" cy="231.50" r="1.75" fill="#ED7D31"/>
<circle cx="145.90" cy="231.50" r="1.75" fill="#ED7D31"/>
<circle cx="161.10" cy="224.50" r="1.75" fill="#ED7D31"/>
<circle cx="169.40" cy="222.10" r="1.75" fill="#ED7D31"/>
<circle cx="168.40" cy="227.80" r="1.75" fill="#ED7D31"/>
<circle cx="226.20" cy="228.60" r="1.75" fill="#ED7D31"/>
<circle cx="217.10" cy="233.30" r="1.75" fill="#ED7D31"/>
<circle cx="228.60" cy="244.30" r="1.75" fill="#ED7D31"/>
<circle cx="233.60" cy="243.20" r="1.75" fill="#ED7D31"/>
<circle cx="235.80" cy="238.30" r="1.75" fill="#ED7D31"/>
<circle cx="241.50" cy="237.40" r="1.75" fill="#ED7D31"/>
<circle cx="241.50" cy="239.80" r="1.75" fill="#ED7D31"/>
<circle cx="249.20" cy="236.40" r="1.75" fill="#ED7D31"/>
<circle cx="241.50" cy="238.30" r="1.75" fill="#ED7D31"/>
<circle cx="257.40" cy="240.10" r="1.75" fill="#ED7D31"/>
<circle cx="260.20" cy="235.50" r="1.75" fill="#ED7D31"/>
<circle cx="268.40" cy="236.10" r="1.75" fill="#ED7D31"/>
<circle cx="270.60" cy="243.80" r="1.75" fill="#ED7D31"/>
<circle cx="280.40" cy="226.40" r="1.75" fill="#ED7D31"/>
<circle cx="283.70" cy="228.20" r="1.75" fill="#ED7D31"/>
<circle cx="290.40" cy="233.10" r="1.75" fill="#ED7D31"/>
<circle cx="295.60" cy="229.10" r="1.75" fill="#ED7D31"/>
<circle cx="298.30" cy="225.40" r="1.75" fill="#ED7D31"/>
<circle cx="300.50" cy="224.90" r="1.75" fill="#ED7D31"/>
<circle cx="310.60" cy="224.20" r="1.75" fill="#ED7D31"/>
<circle cx="316.70" cy="220.90" r="1.75" fill="#ED7D31"/>
<circle cx="319.30" cy="214.40" r="1.75" fill="#ED7D31"/>
<circle cx="323.50" cy="226.40" r="1.75" fill="#ED7D31"/>
<circle cx="327.70" cy="219.90" r="1.75" fill="#ED7D31"/>
<circle cx="331.40" cy="242.00" r="1.75" fill="#ED7D31"/>
<circle cx="316.50" cy="195.00" r="1.75" fill="#ED7D31"/>
<path d="M50.10 185.80L54.10 185.80L52.10 182.20Z" fill="#5B9BD5"/>
<path d="M46.80 193.10L50.80 193.10L48.80 189.50Z" fill="#5B9BD5"/>
<path d="M45.90 194.90L49.90 194.90L47.90 191.30Z" fill="#5B9BD5"/>
<path d="M45.00 199.10L49.00 199.10L47.00 195.50Z" fill="#5B9BD5"/>
<path d="M58.80 199.80L62.80 199.80L60.80 196.20Z" fill="#5B9BD5"/>
<path d="M44.60 200.30L48.60 200.30L46.60 196.70Z" fill="#5B9BD5"/>
<path d="M45.00 201.60L49.00 201.60L47.00 198.00Z" fill="#5B9BD5"/>
<path d="M58.40 200.60L62.40 200.60L60.40 197.00Z" fill="#5B9BD5"/>
<path d="M63.40 212.00L67.40 212.00L65.40 208.40Z" fill="#5B9BD5"/>
<path d="M71.10 220.80L75.10 220.80L73.10 217.20Z" fill="#5B9BD5"/>
<path d="M72.50 225.00L76.50 225.00L74.50 221.40Z" fill="#5B9BD5"/>
<path d="M76.70 211.60L80.70 211.60L78.70 208.00Z" fill="#5B9BD5"/>
<path d="M79.90 202.80L83.90 202.80L81.90 199.20Z" fill="#5B9BD5"/>
<path d="M81.20 204.70L85.20 204.70L83.20 201.10Z" fill="#5B9BD5"/>
<path d="M82.60 215.80L86.60 215.80L84.60 212.20Z" fill="#5B9BD5"/>
<path d="M83.50 216.80L87.50 216.80L85.50 213.20Z" fill="#5B9BD5"/>
<path d="M91.20 209.80L95.20 209.80L93.20 206.20Z" fill="#5B9BD5"/>
<path d="M90.50 219.90L94.50 219.90L92.50 216.30Z" fill="#5B9BD5"/>
<path d="M95.50 223.60L99.50 223.60L97.50 220.00Z" fill="#5B9BD5"/>
<path d="M101.50 225.40L105.50 225.40L103.50 221.80Z" fill="#5B9BD5"/>
<path d="M106.50 227.80L110.50 227.80L108.50 224.20Z" fill="#5B9BD5"/>
<path d="M114.20 220.40L118.20 220.40L116.20 216.80Z" fill="#5B9BD5"/>
<path d="M115.60 230.00L119.60 230.00L117.60 226.40Z" fill="#5B9BD5"/>
<path d="M116.00 233.30L120.00 233.30L118.00 229.70Z" fill="#5B9BD5"/>
<path d="M136.70 232.80L140.70 232.80L138.70 229.20Z" fill="#5B9BD5"/>
<path d="M143.70 237.00L147.70 237.00L145.70 233.40Z" fill="#5B9BD5"/>
<path d="M144.40 236.40L148.40 236.40L146.40 232.80Z" fill="#5B9BD5"/>
<path d="M158.70 229.10L162.70 229.10L160.70 225.50Z" fill="#5B9BD5"/>
<path d="M174.70 227.80L178.70 227.80L176.70 224.20Z" fill="#5B9BD5"/>
<path d="M209.60 229.60L213.60 229.60L211.60 226.00Z" fill="#5B9BD5"/>
<path d="M220.00 226.00L224.00 226.00L222.00 222.40Z" fill="#5B9BD5"/>
<path d="M223.30 226.30L227.30 226.30L225.30 222.70Z" fill="#5B9BD5"/>
<path d="M227.50 236.40L231.50 236.40L229.50 232.80Z" fill="#5B9BD5"/>
<path d="M225.10 242.80L229.10 242.80L227.10 239.20Z" fill="#5B9BD5"/>
<path d="M226.40 243.80L230.40 243.80L228.40 240.20Z" fill="#5B9BD5"/>
<path d="M233.40 243.80L237.40 243.80L235.40 240.20Z" fill="#5B9BD5"/>
<path d="M234.90 243.80L238.90 243.80L236.90 240.20Z" fill="#5B9BD5"/>
<path d="M246.20 241.40L250.20 241.40L248.20 237.80Z" fill="#5B9BD5"/>
<path d="M246.30 241.00L250.30 241.00L248.30 237.40Z" fill="#5B9BD5"/>
<path d="M267.70 238.80L271.70 238.80L269.70 235.20Z" fill="#5B9BD5"/>
<path d="M271.60 237.30L275.60 237.30L273.60 233.70Z" fill="#5B9BD5"/>
<path d="M273.40 239.50L277.40 239.50L275.40 235.90Z" fill="#5B9BD5"/>
<path d="M274.70 242.50L278.70 242.50L276.70 238.90Z" fill="#5B9BD5"/>
<path d="M272.90 245.60L276.90 245.60L274.90 242.00Z" fill="#5B9BD5"/>
<path d="M279.80 237.30L283.80 237.30L281.80 233.70Z" fill="#5B9BD5"/>
<path d="M283.00 234.60L287.00 234.60L285.00 231.00Z" fill="#5B9BD5"/>
<path d="M289.90 228.20L293.90 228.20L291.90 224.60Z" fill="#5B9BD5"/>
<path d="M295.40 225.00L299.40 225.00L297.40 221.40Z" fill="#5B9BD5"/>
<path d="M297.60 229.60L301.60 229.60L299.60 226.00Z" fill="#5B9BD5"/>
<path d="M304.40 231.80L308.40 231.80L306.40 228.20Z" fill="#5B9BD5"/>
<path d="M306.80 232.80L310.80 232.80L308.80 229.20Z" fill="#5B9BD5"/>
<path d="M306.80 228.20L310.80 228.20L308.80 224.60Z" fill="#5B9BD5"/>
<path d="M317.30 226.70L321.30 226.70L319.30 223.10Z" fill="#5B9BD5"/>
<path d="M318.40 225.40L322.40 225.40L320.40 221.80Z" fill="#5B9BD5"/>
<path d="M320.60 230.90L324.60 230.90L322.60 227.30Z" fill="#5B9BD5"/>
<path d="M332.50 229.10L336.50 229.10L334.50 225.50Z" fill="#5B9BD5"/>
<path d="M337.40 224.80L341.40 224.80L339.40 221.20Z" fill="#5B9BD5"/>
<path d="M44.80 208.00C45.08 206.33 45.80 201.00 46.50 198.00C47.20 195.00 48.15 192.87 49.00 190.00C49.85 187.13 50.60 181.97 51.60 180.80C52.60 179.63 53.68 182.17 55.00 183.00C56.32 183.83 58.53 183.35 59.50 185.80C60.47 188.25 60.58 194.92 60.80 197.70C61.02 200.48 60.03 201.08 60.80 202.50C61.57 203.92 64.03 204.95 65.40 206.20C66.77 207.45 67.78 208.63 69.00 210.00C70.22 211.37 71.53 214.23 72.70 214.40C73.87 214.57 74.93 212.23 76.00 211.00C77.07 209.77 78.10 207.67 79.10 207.00C80.10 206.33 81.17 206.53 82.00 207.00C82.83 207.47 83.52 208.25 84.10 209.80C84.68 211.35 84.65 215.38 85.50 216.30C86.35 217.22 87.97 214.85 89.20 215.30C90.43 215.75 91.22 217.47 92.90 219.00C94.58 220.53 97.78 223.27 99.30 224.50C100.82 225.73 100.93 226.55 102.00 226.40C103.07 226.25 103.25 223.60 105.70 223.60C108.15 223.60 113.03 225.48 116.70 226.40C120.37 227.32 122.82 228.50 127.70 229.10C132.58 229.70 140.58 230.00 146.00 230.00C151.42 230.00 156.62 229.87 160.20 229.10C163.78 228.33 165.37 225.92 167.50 225.40C169.63 224.88 171.17 225.68 173.00 226.00C174.83 226.32 172.07 227.23 178.50 227.30C184.93 227.37 204.25 226.25 211.60 226.40C218.95 226.55 220.17 227.13 222.60 228.20C225.03 229.27 225.20 230.72 226.20 232.80C227.20 234.88 227.07 239.57 228.60 240.70C230.13 241.83 231.83 239.92 235.40 239.60C238.97 239.28 246.18 239.17 250.00 238.80C253.82 238.43 255.07 237.58 258.30 237.40C261.53 237.22 266.63 237.25 269.40 237.70C272.17 238.15 273.53 240.40 274.90 240.10C276.27 239.80 276.08 237.33 277.60 235.90C279.12 234.47 281.70 232.53 284.00 231.50C286.30 230.47 289.25 230.47 291.40 229.70C293.55 228.93 295.07 227.22 296.90 226.90C298.73 226.58 300.57 227.52 302.40 227.80C304.23 228.08 306.68 229.92 307.90 228.60C309.12 227.28 308.33 221.57 309.70 219.90C311.07 218.23 314.87 219.37 316.10 218.60C317.33 217.83 316.63 214.62 317.10 215.30C317.57 215.98 317.98 221.32 318.90 222.70C319.82 224.08 321.68 222.62 322.60 223.60C323.52 224.58 322.88 227.90 324.40 228.60C325.92 229.30 330.48 227.93 331.70 227.80" fill="none" stroke="#FF0000" stroke-width="1.15" stroke-linejoin="round" stroke-linecap="round"/>
<rect x="138.5" y="153.5" width="103" height="34.5" fill="#fff" stroke="#333" stroke-width="1"/>
<path d="M144.90 166.25L149.90 166.25L147.40 161.75Z" fill="#5B9BD5"/>
<circle cx="147.40" cy="177.60" r="2.2" fill="#ED7D31"/>
<text x="153.2" y="167.7" font-size="10" text-anchor="start" fill="#2E75C6" stroke="#2E75C6" stroke-width="0.25" font-weight="normal" textLength="76.3" lengthAdjust="spacingAndGlyphs" >Δ(SNP-index) &gt;0</text>
<text x="153.2" y="182.0" font-size="10" text-anchor="start" fill="#C55A11" stroke="#C55A11" stroke-width="0.25" font-weight="normal" textLength="76.3" lengthAdjust="spacingAndGlyphs" >Δ(SNP-index) &lt;0</text>
<text x="0" y="0" font-size="10.4" text-anchor="middle" fill="#1a1a1a" stroke="#1a1a1a" stroke-width="0.4" font-weight="normal" textLength="62.5" lengthAdjust="spacingAndGlyphs" transform="translate(10.4,68) rotate(-90)">|Δ(SNP-index)|</text>
<text x="0" y="0" font-size="10.4" text-anchor="middle" fill="#1a1a1a" stroke="#1a1a1a" stroke-width="0.4" font-weight="normal" textLength="63.5" lengthAdjust="spacingAndGlyphs" transform="translate(10.4,202.3) rotate(-90)">|Δ(SNP-index)|</text>
<text x="1.9" y="12.3" font-size="14.6" text-anchor="start" fill="#000" stroke="#000" stroke-width="0.25" font-weight="bold" >a</text>
<line x1="415.4" y1="21" x2="415.4" y2="226.1" stroke="#D0D0D0" stroke-width="1"/>
<line x1="415.4" y1="226.1" x2="598" y2="226.1" stroke="#D0D0D0" stroke-width="1"/>
<text x="403.8" y="230.0" font-size="11" text-anchor="end" fill="#1a1a1a" stroke="#1a1a1a" stroke-width="0.25" font-weight="normal" textLength="5.6" lengthAdjust="spacingAndGlyphs" >0</text>
<text x="403.8" y="178.725" font-size="11" text-anchor="end" fill="#1a1a1a" stroke="#1a1a1a" stroke-width="0.25" font-weight="normal" textLength="12.3" lengthAdjust="spacingAndGlyphs" >10</text>
<text x="403.8" y="127.44999999999999" font-size="11" text-anchor="end" fill="#1a1a1a" stroke="#1a1a1a" stroke-width="0.25" font-weight="normal" textLength="12.3" lengthAdjust="spacingAndGlyphs" >20</text>
<text x="403.8" y="76.17499999999998" font-size="11" text-anchor="end" fill="#1a1a1a" stroke="#1a1a1a" stroke-width="0.25" font-weight="normal" textLength="12.3" lengthAdjust="spacingAndGlyphs" >30</text>
<text x="403.8" y="24.89999999999997" font-size="11" text-anchor="end" fill="#1a1a1a" stroke="#1a1a1a" stroke-width="0.25" font-weight="normal" textLength="12.3" lengthAdjust="spacingAndGlyphs" >40</text>
<line x1="420.40" y1="226.1" x2="420.40" y2="231" stroke="#D0D0D0" stroke-width="1"/>
<text x="0" y="0" font-size="10" text-anchor="end" fill="#1a1a1a" stroke="#1a1a1a" stroke-width="0.25" font-weight="normal" textLength="10.5" lengthAdjust="spacingAndGlyphs" transform="translate(423.60,234.6) rotate(-90)">20</text>
<line x1="428.30" y1="226.1" x2="428.30" y2="231" stroke="#D0D0D0" stroke-width="1"/>
<text x="0" y="0" font-size="10" text-anchor="end" fill="#1a1a1a" stroke="#1a1a1a" stroke-width="0.25" font-weight="normal" textLength="10.5" lengthAdjust="spacingAndGlyphs" transform="translate(431.70,234.6) rotate(-90)">40</text>
<line x1="437.40" y1="226.1" x2="437.40" y2="231" stroke="#D0D0D0" stroke-width="1"/>
<text x="0" y="0" font-size="10" text-anchor="end" fill="#1a1a1a" stroke="#1a1a1a" stroke-width="0.25" font-weight="normal" textLength="10.5" lengthAdjust="spacingAndGlyphs" transform="translate(442.10,234.6) rotate(-90)">80</text>
<line x1="460.50" y1="226.1" x2="460.50" y2="231" stroke="#D0D0D0" stroke-width="1"/>
<text x="0" y="0" font-size="10" text-anchor="end" fill="#1a1a1a" stroke="#1a1a1a" stroke-width="0.25" font-weight="normal" textLength="17.0" lengthAdjust="spacingAndGlyphs" transform="translate(466.00,234.6) rotate(-90)">159</text>
<line x1="505.60" y1="226.1" x2="505.60" y2="231" stroke="#D0D0D0" stroke-width="1"/>
<text x="0" y="0" font-size="10" text-anchor="end" fill="#1a1a1a" stroke="#1a1a1a" stroke-width="0.25" font-weight="normal" textLength="16.0" lengthAdjust="spacingAndGlyphs" transform="translate(510.30,234.6) rotate(-90)">318</text>
<line x1="596.00" y1="226.1" x2="596.00" y2="231" stroke="#D0D0D0" stroke-width="1"/>
<text x="0" y="0" font-size="10" text-anchor="end" fill="#1a1a1a" stroke="#1a1a1a" stroke-width="0.25" font-weight="normal" textLength="15.8" lengthAdjust="spacingAndGlyphs" transform="translate(598.80,234.6) rotate(-90)">636</text>
<polyline points="421.04,73.30 426.68,169.18 437.97,216.36 460.25,225.84 505.11,226.10 594.82,226.10" fill="none" stroke="#000" stroke-width="1.8" stroke-linejoin="round" stroke-linecap="round" stroke-dasharray="4 2.5" stroke-linecap="butt"/>
<polyline points="421.04,34.33 426.68,164.06 437.97,200.46 460.25,220.72 505.11,225.84 594.82,226.10" fill="none" stroke="#808080" stroke-width="1.4" stroke-linejoin="round" stroke-linecap="round" stroke-dasharray="3 2" stroke-linecap="butt"/>
<rect x="418.74" y="71.00" width="4.6" height="4.6" fill="#000"/>
<rect x="424.38" y="166.88" width="4.6" height="4.6" fill="#000"/>
<rect x="435.67" y="214.06" width="4.6" height="4.6" fill="#000"/>
<rect x="457.95" y="223.54" width="4.6" height="4.6" fill="#000"/>
<rect x="502.81" y="223.80" width="4.6" height="4.6" fill="#000"/>
<rect x="592.52" y="223.80" width="4.6" height="4.6" fill="#000"/>
<circle cx="421.04" cy="34.33" r="2.5" fill="#808080"/>
<circle cx="426.68" cy="164.06" r="2.5" fill="#808080"/>
<circle cx="437.97" cy="200.46" r="2.5" fill="#808080"/>
<circle cx="460.25" cy="220.72" r="2.5" fill="#808080"/>
<circle cx="505.11" cy="225.84" r="2.5" fill="#808080"/>
<circle cx="594.82" cy="226.10" r="2.5" fill="#808080"/>
<polyline points="516.00,37.40 540.30,37.40" fill="none" stroke="#000" stroke-width="1.8" stroke-linejoin="round" stroke-linecap="round" stroke-dasharray="3.5 2.2" stroke-linecap="butt"/>
<rect x="524.8" y="34.9" width="5" height="5" fill="#000"/>
<polyline points="516.00,51.80 540.30,51.80" fill="none" stroke="#808080" stroke-width="1.4" stroke-linejoin="round" stroke-linecap="round" stroke-dasharray="3 2" stroke-linecap="butt"/>
<circle cx="527.30" cy="51.80" r="2.2" fill="#808080"/>
<text x="542" y="40.6" font-size="10.2" text-anchor="start" fill="#1a1a1a" stroke="#1a1a1a" stroke-width="0.25" font-weight="normal" textLength="30.4" lengthAdjust="spacingAndGlyphs" >n = 24</text>
<text x="542" y="55.0" font-size="10.2" text-anchor="start" fill="#1a1a1a" stroke="#1a1a1a" stroke-width="0.25" font-weight="normal" textLength="30.4" lengthAdjust="spacingAndGlyphs" >n = 12</text>
<text x="453" y="264.4" font-size="10.6" text-anchor="start" fill="#1a1a1a" stroke="#1a1a1a" stroke-width="0.25" font-weight="normal" textLength="106.8" lengthAdjust="spacingAndGlyphs" >Sequencing depth (×)</text>
<text x="0" y="0" font-size="9.8" text-anchor="middle" fill="#1a1a1a" stroke="#1a1a1a" stroke-width="0.25" font-weight="normal" textLength="207" lengthAdjust="spacingAndGlyphs" transform="translate(384.6,128) rotate(-90)">Proportion of estimated false positives (× 10<tspan dy="-3.5" font-size="6.5">-3</tspan><tspan dy="3.5">)</tspan></text>
<text x="376.9" y="12.4" font-size="14.8" text-anchor="start" fill="#000" stroke="#000" stroke-width="0.25" font-weight="bold" >b</text>
</svg>
</body></html>
